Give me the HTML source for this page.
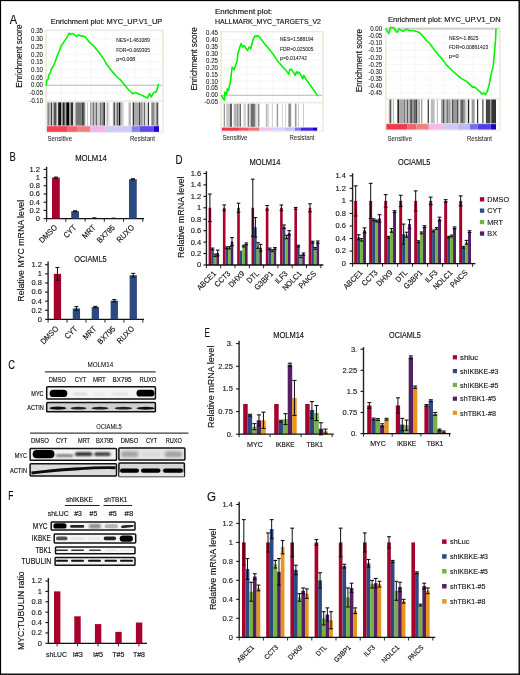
<!DOCTYPE html><html><head><meta charset="utf-8"><style>html,body{margin:0;padding:0;background:#fff;}svg{display:block;will-change:transform;}text{font-family:"Liberation Sans", sans-serif;}</style></head><body>
<svg width="520" height="675" viewBox="0 0 520 675">
<rect x="0" y="0" width="520" height="675" fill="#fff"/>
<text x="9.8" y="23.93" font-size="12" fill="#111" stroke="#111" stroke-width="0.15" textLength="7.4" lengthAdjust="spacingAndGlyphs">A</text>
<text x="9.6" y="161.43" font-size="12" fill="#111" stroke="#111" stroke-width="0.15" textLength="6.3" lengthAdjust="spacingAndGlyphs">B</text>
<text x="8.2" y="369.13" font-size="12" fill="#111" stroke="#111" stroke-width="0.15" textLength="6.7" lengthAdjust="spacingAndGlyphs">C</text>
<text x="175.6" y="164.13" font-size="12" fill="#111" stroke="#111" stroke-width="0.15" textLength="7" lengthAdjust="spacingAndGlyphs">D</text>
<text x="204.6" y="337.33" font-size="12" fill="#111" stroke="#111" stroke-width="0.15" textLength="5.4" lengthAdjust="spacingAndGlyphs">E</text>
<text x="8.2" y="499.83" font-size="12" fill="#111" stroke="#111" stroke-width="0.15" textLength="5.1" lengthAdjust="spacingAndGlyphs">F</text>
<text x="206.9" y="501.13" font-size="12" fill="#111" stroke="#111" stroke-width="0.15" textLength="9" lengthAdjust="spacingAndGlyphs">G</text>
<line x1="46.2" y1="31.16" x2="163" y2="31.16" stroke="#f5f5f5" stroke-width="0.8"/>
<line x1="46.2" y1="38.88" x2="163" y2="38.88" stroke="#f5f5f5" stroke-width="0.8"/>
<line x1="46.2" y1="46.6" x2="163" y2="46.6" stroke="#f5f5f5" stroke-width="0.8"/>
<line x1="46.2" y1="54.32" x2="163" y2="54.32" stroke="#f5f5f5" stroke-width="0.8"/>
<line x1="46.2" y1="62.04" x2="163" y2="62.04" stroke="#f5f5f5" stroke-width="0.8"/>
<line x1="46.2" y1="69.76" x2="163" y2="69.76" stroke="#f5f5f5" stroke-width="0.8"/>
<line x1="46.2" y1="77.48" x2="163" y2="77.48" stroke="#f5f5f5" stroke-width="0.8"/>
<line x1="46.2" y1="92.92" x2="163" y2="92.92" stroke="#f5f5f5" stroke-width="0.8"/>
<line x1="46.2" y1="100.64" x2="163" y2="100.64" stroke="#f5f5f5" stroke-width="0.8"/>
<line x1="61.2" y1="30" x2="61.2" y2="101.2" stroke="#f5f5f5" stroke-width="0.8"/>
<line x1="75.8" y1="30" x2="75.8" y2="101.2" stroke="#f5f5f5" stroke-width="0.8"/>
<line x1="90.8" y1="30" x2="90.8" y2="101.2" stroke="#f5f5f5" stroke-width="0.8"/>
<line x1="105.6" y1="30" x2="105.6" y2="101.2" stroke="#f5f5f5" stroke-width="0.8"/>
<line x1="120.4" y1="30" x2="120.4" y2="101.2" stroke="#f5f5f5" stroke-width="0.8"/>
<line x1="135.4" y1="30" x2="135.4" y2="101.2" stroke="#f5f5f5" stroke-width="0.8"/>
<line x1="150.6" y1="30" x2="150.6" y2="101.2" stroke="#f5f5f5" stroke-width="0.8"/>
<line x1="46.2" y1="85.2" x2="163" y2="85.2" stroke="#b4b4b4" stroke-width="1.1"/>
<text x="31.1" y="33.37" font-size="6.5" fill="#222" stroke="#222" stroke-width="0.08" textLength="11.9" lengthAdjust="spacingAndGlyphs">0.35</text>
<line x1="45" y1="31.16" x2="46.2" y2="31.16" stroke="#ccc" stroke-width="0.6"/>
<text x="31.1" y="41.09" font-size="6.5" fill="#222" stroke="#222" stroke-width="0.08" textLength="11.9" lengthAdjust="spacingAndGlyphs">0.30</text>
<line x1="45" y1="38.88" x2="46.2" y2="38.88" stroke="#ccc" stroke-width="0.6"/>
<text x="31.1" y="48.81" font-size="6.5" fill="#222" stroke="#222" stroke-width="0.08" textLength="11.9" lengthAdjust="spacingAndGlyphs">0.25</text>
<line x1="45" y1="46.6" x2="46.2" y2="46.6" stroke="#ccc" stroke-width="0.6"/>
<text x="31.1" y="56.53" font-size="6.5" fill="#222" stroke="#222" stroke-width="0.08" textLength="11.9" lengthAdjust="spacingAndGlyphs">0.20</text>
<line x1="45" y1="54.32" x2="46.2" y2="54.32" stroke="#ccc" stroke-width="0.6"/>
<text x="31.1" y="64.25" font-size="6.5" fill="#222" stroke="#222" stroke-width="0.08" textLength="11.9" lengthAdjust="spacingAndGlyphs">0.15</text>
<line x1="45" y1="62.04" x2="46.2" y2="62.04" stroke="#ccc" stroke-width="0.6"/>
<text x="31.1" y="71.97" font-size="6.5" fill="#222" stroke="#222" stroke-width="0.08" textLength="11.9" lengthAdjust="spacingAndGlyphs">0.10</text>
<line x1="45" y1="69.76" x2="46.2" y2="69.76" stroke="#ccc" stroke-width="0.6"/>
<text x="31.1" y="79.69" font-size="6.5" fill="#222" stroke="#222" stroke-width="0.08" textLength="11.9" lengthAdjust="spacingAndGlyphs">0.05</text>
<line x1="45" y1="77.48" x2="46.2" y2="77.48" stroke="#ccc" stroke-width="0.6"/>
<text x="31.1" y="87.41" font-size="6.5" fill="#222" stroke="#222" stroke-width="0.08" textLength="11.9" lengthAdjust="spacingAndGlyphs">0.00</text>
<line x1="45" y1="85.2" x2="46.2" y2="85.2" stroke="#ccc" stroke-width="0.6"/>
<text x="29.4" y="95.13" font-size="6.5" fill="#222" stroke="#222" stroke-width="0.08" textLength="13.6" lengthAdjust="spacingAndGlyphs">-0.05</text>
<line x1="45" y1="92.92" x2="46.2" y2="92.92" stroke="#ccc" stroke-width="0.6"/>
<text x="29.4" y="102.85" font-size="6.5" fill="#222" stroke="#222" stroke-width="0.08" textLength="13.6" lengthAdjust="spacingAndGlyphs">-0.10</text>
<line x1="45" y1="100.64" x2="46.2" y2="100.64" stroke="#ccc" stroke-width="0.6"/>
<rect x="46.2" y="30" width="116.8" height="71.2" fill="none" stroke="#ecebdc" stroke-width="1.4"/>
<rect x="46.5" y="102.4" width="1.3" height="23.5" fill="#aaa"/>
<rect x="47.8" y="102.4" width="1.2" height="23.5" fill="#888"/>
<rect x="49" y="102.4" width="1.9" height="23.5" fill="#bbb"/>
<rect x="50.9" y="102.4" width="1.1" height="23.5" fill="#444"/>
<rect x="52" y="102.4" width="1.6" height="23.5" fill="#ccc"/>
<rect x="53.6" y="102.4" width="3.1" height="23.5" fill="#555"/>
<rect x="56.7" y="102.4" width="1.5" height="23.5" fill="#ddd"/>
<rect x="58.2" y="102.4" width="3.1" height="23.5" fill="#111"/>
<rect x="61.3" y="102.4" width="1.5" height="23.5" fill="#999"/>
<rect x="62.8" y="102.4" width="2" height="23.5" fill="#222"/>
<rect x="64.8" y="102.4" width="1.5" height="23.5" fill="#aaa"/>
<rect x="66.3" y="102.4" width="2.7" height="23.5" fill="#000"/>
<rect x="69" y="102.4" width="1.9" height="23.5" fill="#999"/>
<rect x="70.9" y="102.4" width="2.3" height="23.5" fill="#333"/>
<rect x="73.2" y="102.4" width="2.3" height="23.5" fill="#ddd"/>
<rect x="75.5" y="102.4" width="6.2" height="23.5" fill="#777"/>
<rect x="81.7" y="102.4" width="1.5" height="23.5" fill="#444"/>
<rect x="83.2" y="102.4" width="1.5" height="23.5" fill="#333"/>
<rect x="84.7" y="102.4" width="1.1" height="23.5" fill="#ccc"/>
<rect x="85.8" y="102.4" width="1.6" height="23.5" fill="#fff"/>
<rect x="87.4" y="102.4" width="0.8" height="23.5" fill="#aaa"/>
<rect x="88.2" y="102.4" width="1.9" height="23.5" fill="#fff"/>
<rect x="90.1" y="102.4" width="1.5" height="23.5" fill="#999"/>
<rect x="91.6" y="102.4" width="1.6" height="23.5" fill="#bbb"/>
<rect x="93.2" y="102.4" width="1.1" height="23.5" fill="#555"/>
<rect x="94.3" y="102.4" width="1.5" height="23.5" fill="#bbb"/>
<rect x="95.8" y="102.4" width="1.2" height="23.5" fill="#666"/>
<rect x="97" y="102.4" width="3" height="23.5" fill="#ccc"/>
<rect x="100" y="102.4" width="1.2" height="23.5" fill="#777"/>
<rect x="101.2" y="102.4" width="1.2" height="23.5" fill="#999"/>
<rect x="102.4" y="102.4" width="1.5" height="23.5" fill="#666"/>
<rect x="103.9" y="102.4" width="1.1" height="23.5" fill="#333"/>
<rect x="105" y="102.4" width="1.6" height="23.5" fill="#eee"/>
<rect x="106.6" y="102.4" width="1.6" height="23.5" fill="#bbb"/>
<rect x="108.2" y="102.4" width="1.5" height="23.5" fill="#ddd"/>
<rect x="109.7" y="102.4" width="3.1" height="23.5" fill="#fff"/>
<rect x="112.8" y="102.4" width="0.7" height="23.5" fill="#bbb"/>
<rect x="113.5" y="102.4" width="1.5" height="23.5" fill="#555"/>
<rect x="115" y="102.4" width="1.6" height="23.5" fill="#ccc"/>
<rect x="116.6" y="102.4" width="1.6" height="23.5" fill="#666"/>
<rect x="118.2" y="102.4" width="0.7" height="23.5" fill="#999"/>
<rect x="118.9" y="102.4" width="1.6" height="23.5" fill="#111"/>
<rect x="120.5" y="102.4" width="0.8" height="23.5" fill="#aaa"/>
<rect x="121.3" y="102.4" width="1.2" height="23.5" fill="#aaa"/>
<rect x="122.5" y="102.4" width="1.3" height="23.5" fill="#ccc"/>
<rect x="123.8" y="102.4" width="4.7" height="23.5" fill="#fff"/>
<rect x="128.5" y="102.4" width="2.5" height="23.5" fill="#bbb"/>
<rect x="131" y="102.4" width="1.7" height="23.5" fill="#fff"/>
<rect x="132.7" y="102.4" width="1.7" height="23.5" fill="#333"/>
<rect x="134.4" y="102.4" width="4.6" height="23.5" fill="#aaa"/>
<rect x="139" y="102.4" width="1.3" height="23.5" fill="#444"/>
<rect x="140.3" y="102.4" width="2.5" height="23.5" fill="#999"/>
<rect x="142.8" y="102.4" width="1.3" height="23.5" fill="#ccc"/>
<rect x="144.1" y="102.4" width="0.9" height="23.5" fill="#555"/>
<rect x="145" y="102.4" width="2.9" height="23.5" fill="#ddd"/>
<rect x="147.9" y="102.4" width="1.3" height="23.5" fill="#333"/>
<rect x="149.2" y="102.4" width="2.1" height="23.5" fill="#fff"/>
<rect x="151.3" y="102.4" width="3.4" height="23.5" fill="#888"/>
<rect x="154.7" y="102.4" width="1.7" height="23.5" fill="#ccc"/>
<rect x="156.4" y="102.4" width="1.6" height="23.5" fill="#555"/>
<rect x="158" y="102.4" width="1" height="23.5" fill="#ccc"/>
<rect x="46.5" y="125.9" width="20.5" height="6" fill="#f04450"/>
<rect x="67" y="125.9" width="10.8" height="6" fill="#f06474"/>
<rect x="77.8" y="125.9" width="12.3" height="6" fill="#f08080"/>
<rect x="90.1" y="125.9" width="15.7" height="6" fill="#f4b4e4"/>
<rect x="105.8" y="125.9" width="26" height="6" fill="#d0ccf8"/>
<rect x="131.8" y="125.9" width="7.7" height="6" fill="#8080f0"/>
<rect x="139.5" y="125.9" width="14.3" height="6" fill="#6048e8"/>
<rect x="153.8" y="125.9" width="5.2" height="6" fill="#2000c4"/>
<line x1="46.2" y1="30" x2="46.2" y2="132.4" stroke="#ecebdc" stroke-width="1.4"/>
<line x1="163" y1="30" x2="163" y2="132.4" stroke="#ecebdc" stroke-width="1.4"/>
<line x1="46.2" y1="132.4" x2="163" y2="132.4" stroke="#e4e4e4" stroke-width="0.8"/>
<line x1="46.2" y1="125.9" x2="163" y2="125.9" stroke="#e8e8e8" stroke-width="0.6"/>
<polyline points="46.4,85.2 46.6,80.7 48.2,79 48.7,75.4 50.5,72.4 51.4,68.9 53.2,66.5 54.7,63 57,56.4 58.8,52.3 61.2,45.8 63,43.4 65.3,39.8 67.1,37.5 68.9,33.3 70.7,34.2 73,33.5 74.8,35 76.6,36.6 78.4,34.7 80.8,35.9 84.9,36.6 89,41.6 93.8,46.3 98.5,51.7 104,59.4 106.25,63.75 112.5,71.9 117.5,77.5 120.6,80 125,85.6 128.75,90 132.75,93.75 135.6,92.5 140,94.4 143.75,96.25 147.5,98.1 149.4,93.5 151.25,96.9 153.75,92.5 156.25,91.9 157.5,88.1 158.5,84.4" fill="none" stroke="#00f400" stroke-width="1.6" stroke-linejoin="round" stroke-linecap="round"/>
<text x="50.75" y="24.02" font-size="8" fill="#111" stroke="#111" stroke-width="0.15" textLength="111.55" lengthAdjust="spacingAndGlyphs">Enrichment plot: MYC_UP.V1_UP</text>
<text x="116.25" y="42.37" font-size="5.2" fill="#222" stroke="#222" stroke-width="0.08" textLength="33.5" lengthAdjust="spacingAndGlyphs">NES=1.461089</text>
<text x="116.25" y="51.77" font-size="5.2" fill="#222" stroke="#222" stroke-width="0.08" textLength="33.65" lengthAdjust="spacingAndGlyphs">FDR=0.069305</text>
<text x="116.25" y="60.77" font-size="5.2" fill="#222" stroke="#222" stroke-width="0.08" textLength="18.95" lengthAdjust="spacingAndGlyphs">p=0.008</text>
<text transform="translate(22.2,87.8) rotate(-90)" x="0" y="0" font-size="8.8" fill="#111" stroke="#111" stroke-width="0.15" textLength="63.4" lengthAdjust="spacingAndGlyphs">Enrichment score</text>
<text x="47.5" y="140.9" font-size="7.8" fill="#2a2a2a" stroke="#2a2a2a" stroke-width="0.05" textLength="24.5" lengthAdjust="spacingAndGlyphs">Sensitive</text>
<text x="130" y="140.9" font-size="7.8" fill="#2a2a2a" stroke="#2a2a2a" stroke-width="0.05" textLength="25" lengthAdjust="spacingAndGlyphs">Resistant</text>
<line x1="221.1" y1="39.6" x2="323" y2="39.6" stroke="#f5f5f5" stroke-width="0.8"/>
<line x1="221.1" y1="46.55" x2="323" y2="46.55" stroke="#f5f5f5" stroke-width="0.8"/>
<line x1="221.1" y1="53.5" x2="323" y2="53.5" stroke="#f5f5f5" stroke-width="0.8"/>
<line x1="221.1" y1="60.45" x2="323" y2="60.45" stroke="#f5f5f5" stroke-width="0.8"/>
<line x1="221.1" y1="67.4" x2="323" y2="67.4" stroke="#f5f5f5" stroke-width="0.8"/>
<line x1="221.1" y1="74.35" x2="323" y2="74.35" stroke="#f5f5f5" stroke-width="0.8"/>
<line x1="221.1" y1="81.3" x2="323" y2="81.3" stroke="#f5f5f5" stroke-width="0.8"/>
<line x1="221.1" y1="88.25" x2="323" y2="88.25" stroke="#f5f5f5" stroke-width="0.8"/>
<line x1="221.1" y1="102.15" x2="323" y2="102.15" stroke="#f5f5f5" stroke-width="0.8"/>
<line x1="234" y1="31.7" x2="234" y2="102.7" stroke="#f5f5f5" stroke-width="0.8"/>
<line x1="246.9" y1="31.7" x2="246.9" y2="102.7" stroke="#f5f5f5" stroke-width="0.8"/>
<line x1="259.8" y1="31.7" x2="259.8" y2="102.7" stroke="#f5f5f5" stroke-width="0.8"/>
<line x1="272.6" y1="31.7" x2="272.6" y2="102.7" stroke="#f5f5f5" stroke-width="0.8"/>
<line x1="285.9" y1="31.7" x2="285.9" y2="102.7" stroke="#f5f5f5" stroke-width="0.8"/>
<line x1="298.6" y1="31.7" x2="298.6" y2="102.7" stroke="#f5f5f5" stroke-width="0.8"/>
<line x1="311.7" y1="31.7" x2="311.7" y2="102.7" stroke="#f5f5f5" stroke-width="0.8"/>
<line x1="221.1" y1="95.2" x2="323" y2="95.2" stroke="#b4b4b4" stroke-width="1.1"/>
<text x="206.1" y="34.86" font-size="6.5" fill="#222" stroke="#222" stroke-width="0.08" textLength="11.9" lengthAdjust="spacingAndGlyphs">0.45</text>
<line x1="219.9" y1="32.65" x2="221.1" y2="32.65" stroke="#ccc" stroke-width="0.6"/>
<text x="206.1" y="41.81" font-size="6.5" fill="#222" stroke="#222" stroke-width="0.08" textLength="11.9" lengthAdjust="spacingAndGlyphs">0.40</text>
<line x1="219.9" y1="39.6" x2="221.1" y2="39.6" stroke="#ccc" stroke-width="0.6"/>
<text x="206.1" y="48.76" font-size="6.5" fill="#222" stroke="#222" stroke-width="0.08" textLength="11.9" lengthAdjust="spacingAndGlyphs">0.35</text>
<line x1="219.9" y1="46.55" x2="221.1" y2="46.55" stroke="#ccc" stroke-width="0.6"/>
<text x="206.1" y="55.71" font-size="6.5" fill="#222" stroke="#222" stroke-width="0.08" textLength="11.9" lengthAdjust="spacingAndGlyphs">0.30</text>
<line x1="219.9" y1="53.5" x2="221.1" y2="53.5" stroke="#ccc" stroke-width="0.6"/>
<text x="206.1" y="62.66" font-size="6.5" fill="#222" stroke="#222" stroke-width="0.08" textLength="11.9" lengthAdjust="spacingAndGlyphs">0.25</text>
<line x1="219.9" y1="60.45" x2="221.1" y2="60.45" stroke="#ccc" stroke-width="0.6"/>
<text x="206.1" y="69.61" font-size="6.5" fill="#222" stroke="#222" stroke-width="0.08" textLength="11.9" lengthAdjust="spacingAndGlyphs">0.20</text>
<line x1="219.9" y1="67.4" x2="221.1" y2="67.4" stroke="#ccc" stroke-width="0.6"/>
<text x="206.1" y="76.56" font-size="6.5" fill="#222" stroke="#222" stroke-width="0.08" textLength="11.9" lengthAdjust="spacingAndGlyphs">0.15</text>
<line x1="219.9" y1="74.35" x2="221.1" y2="74.35" stroke="#ccc" stroke-width="0.6"/>
<text x="206.1" y="83.51" font-size="6.5" fill="#222" stroke="#222" stroke-width="0.08" textLength="11.9" lengthAdjust="spacingAndGlyphs">0.10</text>
<line x1="219.9" y1="81.3" x2="221.1" y2="81.3" stroke="#ccc" stroke-width="0.6"/>
<text x="206.1" y="90.46" font-size="6.5" fill="#222" stroke="#222" stroke-width="0.08" textLength="11.9" lengthAdjust="spacingAndGlyphs">0.05</text>
<line x1="219.9" y1="88.25" x2="221.1" y2="88.25" stroke="#ccc" stroke-width="0.6"/>
<text x="206.1" y="97.41" font-size="6.5" fill="#222" stroke="#222" stroke-width="0.08" textLength="11.9" lengthAdjust="spacingAndGlyphs">0.00</text>
<line x1="219.9" y1="95.2" x2="221.1" y2="95.2" stroke="#ccc" stroke-width="0.6"/>
<text x="204.4" y="104.36" font-size="6.5" fill="#222" stroke="#222" stroke-width="0.08" textLength="13.6" lengthAdjust="spacingAndGlyphs">-0.05</text>
<line x1="219.9" y1="102.15" x2="221.1" y2="102.15" stroke="#ccc" stroke-width="0.6"/>
<rect x="221.1" y="31.7" width="101.9" height="71" fill="none" stroke="#ecebdc" stroke-width="1.4"/>
<rect x="223.7" y="103.7" width="1.3" height="23.2" fill="#999999"/>
<rect x="226.3" y="103.7" width="3.7" height="23.2" fill="#c5c5c5"/>
<rect x="230" y="103.7" width="2" height="23.2" fill="#606060"/>
<rect x="233.6" y="103.7" width="3.1" height="23.2" fill="#b6b6b6"/>
<rect x="236.7" y="103.7" width="1.5" height="23.2" fill="#999999"/>
<rect x="238.2" y="103.7" width="1.6" height="23.2" fill="#b6b6b6"/>
<rect x="239.8" y="103.7" width="1.2" height="23.2" fill="#6e6e6e"/>
<rect x="243.4" y="103.7" width="2.6" height="23.2" fill="#d3d3d3"/>
<rect x="247.6" y="103.7" width="1.6" height="23.2" fill="#7c7c7c"/>
<rect x="249.2" y="103.7" width="1.5" height="23.2" fill="#d3d3d3"/>
<rect x="250.7" y="103.7" width="4.2" height="23.2" fill="#6e6e6e"/>
<rect x="254.9" y="103.7" width="1.5" height="23.2" fill="#c5c5c5"/>
<rect x="256.4" y="103.7" width="1.6" height="23.2" fill="#e2e2e2"/>
<rect x="258" y="103.7" width="1.5" height="23.2" fill="#999999"/>
<rect x="265.8" y="103.7" width="1.5" height="23.2" fill="#b6b6b6"/>
<rect x="267.3" y="103.7" width="1.6" height="23.2" fill="#d3d3d3"/>
<rect x="271.9" y="103.7" width="0.7" height="23.2" fill="#b6b6b6"/>
<rect x="276.7" y="103.7" width="1.4" height="23.2" fill="#999999"/>
<rect x="281.9" y="103.7" width="0.8" height="23.2" fill="#c5c5c5"/>
<rect x="285.1" y="103.7" width="1" height="23.2" fill="#d3d3d3"/>
<rect x="288.2" y="103.7" width="3.1" height="23.2" fill="#a8a8a8"/>
<rect x="289.2" y="103.7" width="1.1" height="23.2" fill="#7c7c7c"/>
<rect x="294.9" y="103.7" width="1.6" height="23.2" fill="#999999"/>
<rect x="298" y="103.7" width="0.9" height="23.2" fill="#c5c5c5"/>
<rect x="303" y="103.7" width="0.7" height="23.2" fill="#b6b6b6"/>
<rect x="221.4" y="127.3" width="18.4" height="3.4" fill="#f03444"/>
<rect x="239.8" y="127.3" width="8.2" height="3.4" fill="#f05464"/>
<rect x="248" y="127.3" width="11" height="3.4" fill="#f07474"/>
<rect x="259" y="127.3" width="13" height="3.4" fill="#f8c0e8"/>
<rect x="272" y="127.3" width="13" height="3.4" fill="#d4d4f8"/>
<rect x="285" y="127.3" width="10" height="3.4" fill="#c8c0f8"/>
<rect x="295" y="127.3" width="6" height="3.4" fill="#7474f0"/>
<rect x="301" y="127.3" width="12" height="3.4" fill="#4424e0"/>
<rect x="313" y="127.3" width="4.2" height="3.4" fill="#1400c0"/>
<line x1="221.1" y1="31.7" x2="221.1" y2="131.5" stroke="#ecebdc" stroke-width="1.4"/>
<line x1="323" y1="31.7" x2="323" y2="131.5" stroke="#ecebdc" stroke-width="1.4"/>
<line x1="221.1" y1="131.5" x2="323" y2="131.5" stroke="#e4e4e4" stroke-width="0.8"/>
<line x1="221.1" y1="127.3" x2="323" y2="127.3" stroke="#e8e8e8" stroke-width="0.6"/>
<polyline points="221.5,95.6 224.4,100.2 224.9,92.1 226.7,94.4 227.2,88.7 228.6,90.4 229.6,85.2 230.5,81.1 231.3,74.2 232.1,67.3 234.2,69.6 235.3,66.1 237.1,61.5 237.9,53.4 239.4,48.8 241.1,43.6 242.8,47.1 244.3,45.6 247.5,50.5 249.2,47.1 250.7,48.8 252.7,40.7 254.7,36.1 256.1,36.7 257.3,35.5 259.6,37.2 265.4,44.8 268.8,48.8 272.6,53.4 277.2,60.4 281.9,66.1 286.5,70.8 288.6,74.2 289.7,69.6 291.1,69.4 292.8,71.3 295.2,75.4 296.3,71.7 297.8,73.6 298.6,71.9 300.4,74.2 302.7,78.8 303.8,75.4 306.1,79.4 311.9,87.5 317.7,95.6" fill="none" stroke="#00f400" stroke-width="1.6" stroke-linejoin="round" stroke-linecap="round"/>
<text x="215" y="14.47" font-size="8" fill="#111" stroke="#111" stroke-width="0.15" textLength="57.3" lengthAdjust="spacingAndGlyphs">Enrichment plot:</text>
<text x="215" y="24.47" font-size="8" fill="#111" stroke="#111" stroke-width="0.15" textLength="106" lengthAdjust="spacingAndGlyphs">HALLMARK_MYC_TARGETS_V2</text>
<text x="280.1" y="41.37" font-size="5.2" fill="#222" stroke="#222" stroke-width="0.08" textLength="33.3" lengthAdjust="spacingAndGlyphs">NES=1.588194</text>
<text x="280.1" y="50.57" font-size="5.2" fill="#222" stroke="#222" stroke-width="0.08" textLength="33.3" lengthAdjust="spacingAndGlyphs">FDR=0.025005</text>
<text x="280.1" y="59.77" font-size="5.2" fill="#222" stroke="#222" stroke-width="0.08" textLength="26.9" lengthAdjust="spacingAndGlyphs">p=0.014742</text>
<text transform="translate(197.3,90.6) rotate(-90)" x="0" y="0" font-size="8.8" fill="#111" stroke="#111" stroke-width="0.15" textLength="63.4" lengthAdjust="spacingAndGlyphs">Enrichment score</text>
<text x="222.5" y="140.45" font-size="7.8" fill="#2a2a2a" stroke="#2a2a2a" stroke-width="0.05" textLength="25" lengthAdjust="spacingAndGlyphs">Sensitive</text>
<text x="289.5" y="140.45" font-size="7.8" fill="#2a2a2a" stroke="#2a2a2a" stroke-width="0.05" textLength="25" lengthAdjust="spacingAndGlyphs">Resistant</text>
<line x1="385.7" y1="36" x2="500" y2="36" stroke="#f5f5f5" stroke-width="0.8"/>
<line x1="385.7" y1="43.1" x2="500" y2="43.1" stroke="#f5f5f5" stroke-width="0.8"/>
<line x1="385.7" y1="50.2" x2="500" y2="50.2" stroke="#f5f5f5" stroke-width="0.8"/>
<line x1="385.7" y1="57.3" x2="500" y2="57.3" stroke="#f5f5f5" stroke-width="0.8"/>
<line x1="385.7" y1="64.4" x2="500" y2="64.4" stroke="#f5f5f5" stroke-width="0.8"/>
<line x1="385.7" y1="71.5" x2="500" y2="71.5" stroke="#f5f5f5" stroke-width="0.8"/>
<line x1="385.7" y1="78.6" x2="500" y2="78.6" stroke="#f5f5f5" stroke-width="0.8"/>
<line x1="385.7" y1="85.7" x2="500" y2="85.7" stroke="#f5f5f5" stroke-width="0.8"/>
<line x1="385.7" y1="92.8" x2="500" y2="92.8" stroke="#f5f5f5" stroke-width="0.8"/>
<line x1="400.6" y1="27.6" x2="400.6" y2="98.9" stroke="#f5f5f5" stroke-width="0.8"/>
<line x1="415" y1="27.6" x2="415" y2="98.9" stroke="#f5f5f5" stroke-width="0.8"/>
<line x1="429.8" y1="27.6" x2="429.8" y2="98.9" stroke="#f5f5f5" stroke-width="0.8"/>
<line x1="444.8" y1="27.6" x2="444.8" y2="98.9" stroke="#f5f5f5" stroke-width="0.8"/>
<line x1="458.8" y1="27.6" x2="458.8" y2="98.9" stroke="#f5f5f5" stroke-width="0.8"/>
<line x1="473.3" y1="27.6" x2="473.3" y2="98.9" stroke="#f5f5f5" stroke-width="0.8"/>
<line x1="489.1" y1="27.6" x2="489.1" y2="98.9" stroke="#f5f5f5" stroke-width="0.8"/>
<line x1="385.7" y1="28.9" x2="500" y2="28.9" stroke="#b4b4b4" stroke-width="1.1"/>
<text x="370.2" y="31.11" font-size="6.5" fill="#222" stroke="#222" stroke-width="0.08" textLength="11.9" lengthAdjust="spacingAndGlyphs">0.00</text>
<line x1="384.5" y1="28.9" x2="385.7" y2="28.9" stroke="#ccc" stroke-width="0.6"/>
<text x="368.5" y="38.21" font-size="6.5" fill="#222" stroke="#222" stroke-width="0.08" textLength="13.6" lengthAdjust="spacingAndGlyphs">-0.05</text>
<line x1="384.5" y1="36" x2="385.7" y2="36" stroke="#ccc" stroke-width="0.6"/>
<text x="368.5" y="45.31" font-size="6.5" fill="#222" stroke="#222" stroke-width="0.08" textLength="13.6" lengthAdjust="spacingAndGlyphs">-0.10</text>
<line x1="384.5" y1="43.1" x2="385.7" y2="43.1" stroke="#ccc" stroke-width="0.6"/>
<text x="368.5" y="52.41" font-size="6.5" fill="#222" stroke="#222" stroke-width="0.08" textLength="13.6" lengthAdjust="spacingAndGlyphs">-0.15</text>
<line x1="384.5" y1="50.2" x2="385.7" y2="50.2" stroke="#ccc" stroke-width="0.6"/>
<text x="368.5" y="59.51" font-size="6.5" fill="#222" stroke="#222" stroke-width="0.08" textLength="13.6" lengthAdjust="spacingAndGlyphs">-0.20</text>
<line x1="384.5" y1="57.3" x2="385.7" y2="57.3" stroke="#ccc" stroke-width="0.6"/>
<text x="368.5" y="66.61" font-size="6.5" fill="#222" stroke="#222" stroke-width="0.08" textLength="13.6" lengthAdjust="spacingAndGlyphs">-0.25</text>
<line x1="384.5" y1="64.4" x2="385.7" y2="64.4" stroke="#ccc" stroke-width="0.6"/>
<text x="368.5" y="73.71" font-size="6.5" fill="#222" stroke="#222" stroke-width="0.08" textLength="13.6" lengthAdjust="spacingAndGlyphs">-0.30</text>
<line x1="384.5" y1="71.5" x2="385.7" y2="71.5" stroke="#ccc" stroke-width="0.6"/>
<text x="368.5" y="80.81" font-size="6.5" fill="#222" stroke="#222" stroke-width="0.08" textLength="13.6" lengthAdjust="spacingAndGlyphs">-0.35</text>
<line x1="384.5" y1="78.6" x2="385.7" y2="78.6" stroke="#ccc" stroke-width="0.6"/>
<text x="368.5" y="87.91" font-size="6.5" fill="#222" stroke="#222" stroke-width="0.08" textLength="13.6" lengthAdjust="spacingAndGlyphs">-0.40</text>
<line x1="384.5" y1="85.7" x2="385.7" y2="85.7" stroke="#ccc" stroke-width="0.6"/>
<text x="368.5" y="95.01" font-size="6.5" fill="#222" stroke="#222" stroke-width="0.08" textLength="13.6" lengthAdjust="spacingAndGlyphs">-0.45</text>
<line x1="384.5" y1="92.8" x2="385.7" y2="92.8" stroke="#ccc" stroke-width="0.6"/>
<rect x="385.7" y="27.6" width="114.3" height="71.3" fill="none" stroke="#ecebdc" stroke-width="1.4"/>
<rect x="388.8" y="99.5" width="1.1" height="24.1" fill="#aaa"/>
<rect x="389.9" y="99.5" width="1.4" height="24.1" fill="#555"/>
<rect x="392.8" y="99.5" width="1.2" height="24.1" fill="#bbb"/>
<rect x="397.4" y="99.5" width="1.8" height="24.1" fill="#222"/>
<rect x="399.2" y="99.5" width="4.6" height="24.1" fill="#aaa"/>
<rect x="403.8" y="99.5" width="1.7" height="24.1" fill="#777"/>
<rect x="405.5" y="99.5" width="1.7" height="24.1" fill="#bbb"/>
<rect x="407.2" y="99.5" width="1.2" height="24.1" fill="#333"/>
<rect x="408.4" y="99.5" width="1.7" height="24.1" fill="#bbb"/>
<rect x="410.1" y="99.5" width="0.7" height="24.1" fill="#333"/>
<rect x="410.8" y="99.5" width="1.5" height="24.1" fill="#555"/>
<rect x="412.3" y="99.5" width="1.5" height="24.1" fill="#888"/>
<rect x="413.8" y="99.5" width="2" height="24.1" fill="#666"/>
<rect x="415.8" y="99.5" width="1.1" height="24.1" fill="#222"/>
<rect x="416.9" y="99.5" width="1.6" height="24.1" fill="#bbb"/>
<rect x="418.5" y="99.5" width="1.5" height="24.1" fill="#aaa"/>
<rect x="421.2" y="99.5" width="1.1" height="24.1" fill="#888"/>
<rect x="427.7" y="99.5" width="1.1" height="24.1" fill="#222"/>
<rect x="430.8" y="99.5" width="3.8" height="24.1" fill="#bbb"/>
<rect x="436.9" y="99.5" width="0.8" height="24.1" fill="#aaa"/>
<rect x="441.2" y="99.5" width="1.8" height="24.1" fill="#999"/>
<rect x="443" y="99.5" width="1.6" height="24.1" fill="#555"/>
<rect x="444.6" y="99.5" width="1.2" height="24.1" fill="#bbb"/>
<rect x="445.8" y="99.5" width="0.8" height="24.1" fill="#999"/>
<rect x="446.6" y="99.5" width="1.7" height="24.1" fill="#777"/>
<rect x="448.3" y="99.5" width="2.4" height="24.1" fill="#999"/>
<rect x="450.7" y="99.5" width="1.2" height="24.1" fill="#ddd"/>
<rect x="451.9" y="99.5" width="1.8" height="24.1" fill="#555"/>
<rect x="453.7" y="99.5" width="3.6" height="24.1" fill="#999"/>
<rect x="457.3" y="99.5" width="1.2" height="24.1" fill="#111"/>
<rect x="458.5" y="99.5" width="1.8" height="24.1" fill="#ddd"/>
<rect x="460.3" y="99.5" width="3.5" height="24.1" fill="#666"/>
<rect x="463.8" y="99.5" width="1.8" height="24.1" fill="#999"/>
<rect x="465.6" y="99.5" width="2.4" height="24.1" fill="#ddd"/>
<rect x="468" y="99.5" width="1.2" height="24.1" fill="#222"/>
<rect x="471.6" y="99.5" width="3" height="24.1" fill="#999"/>
<rect x="477" y="99.5" width="1.2" height="24.1" fill="#333"/>
<rect x="482.3" y="99.5" width="1.2" height="24.1" fill="#444"/>
<rect x="485.9" y="99.5" width="4.2" height="24.1" fill="#444"/>
<rect x="490.1" y="99.5" width="1.2" height="24.1" fill="#999"/>
<rect x="491.3" y="99.5" width="4.7" height="24.1" fill="#333"/>
<rect x="385.9" y="123.7" width="21.3" height="6" fill="#f03848"/>
<rect x="407.2" y="123.7" width="9.3" height="6" fill="#f06070"/>
<rect x="416.5" y="123.7" width="12.3" height="6" fill="#f08080"/>
<rect x="428.8" y="123.7" width="15.4" height="6" fill="#f8b8e8"/>
<rect x="444.2" y="123.7" width="13.7" height="6" fill="#cacaf4"/>
<rect x="457.9" y="123.7" width="11.9" height="6" fill="#c0b8f4"/>
<rect x="469.8" y="123.7" width="7.8" height="6" fill="#7070f0"/>
<rect x="477.6" y="123.7" width="13.1" height="6" fill="#5040e8"/>
<rect x="490.7" y="123.7" width="5.3" height="6" fill="#2000c0"/>
<line x1="385.7" y1="27.6" x2="385.7" y2="130.2" stroke="#ecebdc" stroke-width="1.4"/>
<line x1="500" y1="27.6" x2="500" y2="130.2" stroke="#ecebdc" stroke-width="1.4"/>
<line x1="385.7" y1="130.2" x2="500" y2="130.2" stroke="#e4e4e4" stroke-width="0.8"/>
<line x1="385.7" y1="123.7" x2="500" y2="123.7" stroke="#e8e8e8" stroke-width="0.6"/>
<polyline points="385.9,28.9 388.8,33.6 390.5,27.2 393.4,27.8 397.1,32.4 399.2,28.9 402.7,31.2 406.7,29.2 409.6,30.7 413.1,30.7 417.7,31.8 420,33 423.5,37 427.5,41.7 429.2,42.8 433.9,49.2 438.5,55 443,60.1 446,64.4 452.1,70.5 458.2,75.9 461.8,78.9 466.7,81.4 472.7,87.4 474.5,86.8 477.6,89.8 480,91.7 481.8,94.1 483.6,92.9 485.4,94.7 487.2,91.7 489.1,85 490.9,75.3 493.3,65.6 494.5,52.3 495.5,40.2 496,29.3" fill="none" stroke="#00f400" stroke-width="1.6" stroke-linejoin="round" stroke-linecap="round"/>
<text x="388" y="22.22" font-size="8" fill="#111" stroke="#111" stroke-width="0.15" textLength="112.7" lengthAdjust="spacingAndGlyphs">Enrichment plot: MYC_UP.V1_DN</text>
<text x="449.1" y="39.52" font-size="5.2" fill="#222" stroke="#222" stroke-width="0.08" textLength="29.4" lengthAdjust="spacingAndGlyphs">NES=-1.8625</text>
<text x="449.1" y="48.87" font-size="5.2" fill="#222" stroke="#222" stroke-width="0.08" textLength="39.1" lengthAdjust="spacingAndGlyphs">FDR=0.00891423</text>
<text x="449.1" y="58.27" font-size="5.2" fill="#222" stroke="#222" stroke-width="0.08" textLength="9.4" lengthAdjust="spacingAndGlyphs">p=0</text>
<text transform="translate(362.1,92.3) rotate(-90)" x="0" y="0" font-size="8.8" fill="#111" stroke="#111" stroke-width="0.15" textLength="63.4" lengthAdjust="spacingAndGlyphs">Enrichment score</text>
<text x="387.5" y="140.65" font-size="7.8" fill="#2a2a2a" stroke="#2a2a2a" stroke-width="0.05" textLength="24.5" lengthAdjust="spacingAndGlyphs">Sensitive</text>
<text x="467" y="140.65" font-size="7.8" fill="#2a2a2a" stroke="#2a2a2a" stroke-width="0.05" textLength="25" lengthAdjust="spacingAndGlyphs">Resistant</text>
<text x="75.2" y="160.79" font-size="8.2" fill="#111" stroke="#111" stroke-width="0.15" textLength="31.6" lengthAdjust="spacingAndGlyphs">MOLM14</text>
<line x1="46.6" y1="166.7" x2="46.6" y2="219.2" stroke="#222" stroke-width="1.4"/>
<line x1="43.6" y1="169.4" x2="46.6" y2="169.4" stroke="#111" stroke-width="1.1"/>
<text x="39.9" y="171.8" font-size="7.5" fill="#222" stroke="#222" stroke-width="0.15" text-anchor="end">1.2</text>
<line x1="43.6" y1="177.6" x2="46.6" y2="177.6" stroke="#111" stroke-width="1.1"/>
<text x="39.9" y="180" font-size="7.5" fill="#222" stroke="#222" stroke-width="0.15" text-anchor="end">1</text>
<line x1="43.6" y1="185.8" x2="46.6" y2="185.8" stroke="#111" stroke-width="1.1"/>
<text x="39.9" y="188.2" font-size="7.5" fill="#222" stroke="#222" stroke-width="0.15" text-anchor="end">0.8</text>
<line x1="43.6" y1="194" x2="46.6" y2="194" stroke="#111" stroke-width="1.1"/>
<text x="39.9" y="196.4" font-size="7.5" fill="#222" stroke="#222" stroke-width="0.15" text-anchor="end">0.6</text>
<line x1="43.6" y1="202.2" x2="46.6" y2="202.2" stroke="#111" stroke-width="1.1"/>
<text x="39.9" y="204.6" font-size="7.5" fill="#222" stroke="#222" stroke-width="0.15" text-anchor="end">0.4</text>
<line x1="43.6" y1="210.4" x2="46.6" y2="210.4" stroke="#111" stroke-width="1.1"/>
<text x="39.9" y="212.8" font-size="7.5" fill="#222" stroke="#222" stroke-width="0.15" text-anchor="end">0.2</text>
<line x1="43.6" y1="218.6" x2="46.6" y2="218.6" stroke="#111" stroke-width="1.1"/>
<text x="39.9" y="221" font-size="7.5" fill="#222" stroke="#222" stroke-width="0.15" text-anchor="end">0</text>
<line x1="46.6" y1="218.6" x2="144" y2="218.6" stroke="#111" stroke-width="1.3"/>
<line x1="46.6" y1="218.6" x2="46.6" y2="221.8" stroke="#111" stroke-width="0.9"/>
<line x1="65.84" y1="218.6" x2="65.84" y2="221.8" stroke="#111" stroke-width="0.9"/>
<line x1="85.08" y1="218.6" x2="85.08" y2="221.8" stroke="#111" stroke-width="0.9"/>
<line x1="104.32" y1="218.6" x2="104.32" y2="221.8" stroke="#111" stroke-width="0.9"/>
<line x1="123.56" y1="218.6" x2="123.56" y2="221.8" stroke="#111" stroke-width="0.9"/>
<line x1="142.8" y1="218.6" x2="142.8" y2="221.8" stroke="#111" stroke-width="0.9"/>
<rect x="52" y="177.6" width="7.8" height="41" fill="#a6022c"/>
<line x1="55.9" y1="177.11" x2="55.9" y2="178.09" stroke="#000" stroke-width="0.95"/>
<line x1="53.9" y1="177.11" x2="57.9" y2="177.11" stroke="#111" stroke-width="1.1"/>
<line x1="53.9" y1="178.09" x2="57.9" y2="178.09" stroke="#111" stroke-width="1.1"/>
<rect x="71.24" y="211.22" width="7.8" height="7.38" fill="#2c4a80"/>
<line x1="75.14" y1="210.81" x2="75.14" y2="211.63" stroke="#000" stroke-width="0.95"/>
<line x1="73.14" y1="210.81" x2="77.14" y2="210.81" stroke="#111" stroke-width="1.1"/>
<line x1="73.14" y1="211.63" x2="77.14" y2="211.63" stroke="#111" stroke-width="1.1"/>
<rect x="90.48" y="218.11" width="7.8" height="0.49" fill="#2c4a80"/>
<line x1="94.38" y1="217.94" x2="94.38" y2="218.27" stroke="#000" stroke-width="0.95"/>
<line x1="92.38" y1="217.94" x2="96.38" y2="217.94" stroke="#111" stroke-width="1.1"/>
<line x1="92.38" y1="218.27" x2="96.38" y2="218.27" stroke="#111" stroke-width="1.1"/>
<rect x="109.72" y="218.35" width="7.8" height="0.25" fill="#2c4a80"/>
<line x1="113.62" y1="218.23" x2="113.62" y2="218.48" stroke="#000" stroke-width="0.95"/>
<line x1="111.62" y1="218.23" x2="115.62" y2="218.23" stroke="#111" stroke-width="1.1"/>
<line x1="111.62" y1="218.48" x2="115.62" y2="218.48" stroke="#111" stroke-width="1.1"/>
<rect x="128.96" y="179.24" width="7.8" height="39.36" fill="#2c4a80"/>
<line x1="132.86" y1="178.75" x2="132.86" y2="179.73" stroke="#000" stroke-width="0.95"/>
<line x1="130.86" y1="178.75" x2="134.86" y2="178.75" stroke="#111" stroke-width="1.1"/>
<line x1="130.86" y1="179.73" x2="134.86" y2="179.73" stroke="#111" stroke-width="1.1"/>
<text transform="translate(57.7,228.1) rotate(-45)" x="0" y="0" font-size="7.9" fill="#111" stroke="#111" stroke-width="0.15" text-anchor="end" textLength="21.8" lengthAdjust="spacingAndGlyphs">DMSO</text>
<text transform="translate(76.94,228.1) rotate(-45)" x="0" y="0" font-size="7.9" fill="#111" stroke="#111" stroke-width="0.15" text-anchor="end" textLength="14.54" lengthAdjust="spacingAndGlyphs">CYT</text>
<text transform="translate(96.18,228.1) rotate(-45)" x="0" y="0" font-size="7.9" fill="#111" stroke="#111" stroke-width="0.15" text-anchor="end" textLength="15.61" lengthAdjust="spacingAndGlyphs">MRT</text>
<text transform="translate(115.42,228.1) rotate(-45)" x="0" y="0" font-size="7.9" fill="#111" stroke="#111" stroke-width="0.15" text-anchor="end" textLength="21.82" lengthAdjust="spacingAndGlyphs">BX795</text>
<text transform="translate(134.66,228.1) rotate(-45)" x="0" y="0" font-size="7.9" fill="#111" stroke="#111" stroke-width="0.15" text-anchor="end" textLength="21" lengthAdjust="spacingAndGlyphs">RUXO</text>
<text x="74.3" y="261.99" font-size="8.2" fill="#111" stroke="#111" stroke-width="0.15" textLength="32.4" lengthAdjust="spacingAndGlyphs">OCIAML5</text>
<line x1="48.1" y1="261.4" x2="48.1" y2="319.95" stroke="#222" stroke-width="1.4"/>
<line x1="45.1" y1="264.75" x2="48.1" y2="264.75" stroke="#111" stroke-width="1.1"/>
<text x="41.9" y="267.15" font-size="7.5" fill="#222" stroke="#222" stroke-width="0.15" text-anchor="end">1.2</text>
<line x1="45.1" y1="273.85" x2="48.1" y2="273.85" stroke="#111" stroke-width="1.1"/>
<text x="41.9" y="276.25" font-size="7.5" fill="#222" stroke="#222" stroke-width="0.15" text-anchor="end">1</text>
<line x1="45.1" y1="282.95" x2="48.1" y2="282.95" stroke="#111" stroke-width="1.1"/>
<text x="41.9" y="285.35" font-size="7.5" fill="#222" stroke="#222" stroke-width="0.15" text-anchor="end">0.8</text>
<line x1="45.1" y1="292.05" x2="48.1" y2="292.05" stroke="#111" stroke-width="1.1"/>
<text x="41.9" y="294.45" font-size="7.5" fill="#222" stroke="#222" stroke-width="0.15" text-anchor="end">0.6</text>
<line x1="45.1" y1="301.15" x2="48.1" y2="301.15" stroke="#111" stroke-width="1.1"/>
<text x="41.9" y="303.55" font-size="7.5" fill="#222" stroke="#222" stroke-width="0.15" text-anchor="end">0.4</text>
<line x1="45.1" y1="310.25" x2="48.1" y2="310.25" stroke="#111" stroke-width="1.1"/>
<text x="41.9" y="312.65" font-size="7.5" fill="#222" stroke="#222" stroke-width="0.15" text-anchor="end">0.2</text>
<line x1="45.1" y1="319.35" x2="48.1" y2="319.35" stroke="#111" stroke-width="1.1"/>
<text x="41.9" y="321.75" font-size="7.5" fill="#222" stroke="#222" stroke-width="0.15" text-anchor="end">0</text>
<line x1="48.1" y1="319.35" x2="144" y2="319.35" stroke="#111" stroke-width="1.3"/>
<line x1="48.1" y1="319.35" x2="48.1" y2="322.55" stroke="#111" stroke-width="0.9"/>
<line x1="67.05" y1="319.35" x2="67.05" y2="322.55" stroke="#111" stroke-width="0.9"/>
<line x1="86" y1="319.35" x2="86" y2="322.55" stroke="#111" stroke-width="0.9"/>
<line x1="104.95" y1="319.35" x2="104.95" y2="322.55" stroke="#111" stroke-width="0.9"/>
<line x1="123.9" y1="319.35" x2="123.9" y2="322.55" stroke="#111" stroke-width="0.9"/>
<line x1="142.85" y1="319.35" x2="142.85" y2="322.55" stroke="#111" stroke-width="0.9"/>
<rect x="53.8" y="273.85" width="7.3" height="45.5" fill="#a6022c"/>
<line x1="57.45" y1="267.48" x2="57.45" y2="280.22" stroke="#000" stroke-width="0.95"/>
<line x1="55.45" y1="267.48" x2="59.45" y2="267.48" stroke="#111" stroke-width="1.1"/>
<line x1="55.45" y1="280.22" x2="59.45" y2="280.22" stroke="#111" stroke-width="1.1"/>
<rect x="72.75" y="308.43" width="7.3" height="10.92" fill="#2c4a80"/>
<line x1="76.4" y1="306.61" x2="76.4" y2="310.25" stroke="#000" stroke-width="0.95"/>
<line x1="74.4" y1="306.61" x2="78.4" y2="306.61" stroke="#111" stroke-width="1.1"/>
<line x1="74.4" y1="310.25" x2="78.4" y2="310.25" stroke="#111" stroke-width="1.1"/>
<rect x="91.7" y="307.06" width="7.3" height="12.29" fill="#2c4a80"/>
<line x1="95.35" y1="306.38" x2="95.35" y2="307.75" stroke="#000" stroke-width="0.95"/>
<line x1="93.35" y1="306.38" x2="97.35" y2="306.38" stroke="#111" stroke-width="1.1"/>
<line x1="93.35" y1="307.75" x2="97.35" y2="307.75" stroke="#111" stroke-width="1.1"/>
<rect x="110.65" y="300.7" width="7.3" height="18.65" fill="#2c4a80"/>
<line x1="114.3" y1="299.56" x2="114.3" y2="301.83" stroke="#000" stroke-width="0.95"/>
<line x1="112.3" y1="299.56" x2="116.3" y2="299.56" stroke="#111" stroke-width="1.1"/>
<line x1="112.3" y1="301.83" x2="116.3" y2="301.83" stroke="#111" stroke-width="1.1"/>
<rect x="129.6" y="275.22" width="7.3" height="44.13" fill="#2c4a80"/>
<line x1="133.25" y1="273.4" x2="133.25" y2="277.04" stroke="#000" stroke-width="0.95"/>
<line x1="131.25" y1="273.4" x2="135.25" y2="273.4" stroke="#111" stroke-width="1.1"/>
<line x1="131.25" y1="277.04" x2="135.25" y2="277.04" stroke="#111" stroke-width="1.1"/>
<text transform="translate(59.05,329.3) rotate(-45)" x="0" y="0" font-size="7.9" fill="#111" stroke="#111" stroke-width="0.15" text-anchor="end" textLength="21.8" lengthAdjust="spacingAndGlyphs">DMSO</text>
<text transform="translate(78,329.3) rotate(-45)" x="0" y="0" font-size="7.9" fill="#111" stroke="#111" stroke-width="0.15" text-anchor="end" textLength="14.54" lengthAdjust="spacingAndGlyphs">CYT</text>
<text transform="translate(96.95,329.3) rotate(-45)" x="0" y="0" font-size="7.9" fill="#111" stroke="#111" stroke-width="0.15" text-anchor="end" textLength="15.61" lengthAdjust="spacingAndGlyphs">MRT</text>
<text transform="translate(115.9,329.3) rotate(-45)" x="0" y="0" font-size="7.9" fill="#111" stroke="#111" stroke-width="0.15" text-anchor="end" textLength="21.82" lengthAdjust="spacingAndGlyphs">BX795</text>
<text transform="translate(134.85,329.3) rotate(-45)" x="0" y="0" font-size="7.9" fill="#111" stroke="#111" stroke-width="0.15" text-anchor="end" textLength="21" lengthAdjust="spacingAndGlyphs">RUXO</text>
<text transform="translate(23.5,301.7) rotate(-90)" x="0" y="0" font-size="9.6" fill="#111" stroke="#111" stroke-width="0.15" textLength="101.8" lengthAdjust="spacingAndGlyphs">Relative MYC mRNA level</text>
<defs>
<filter id="b03" x="-20%" y="-50%" width="140%" height="200%"><feGaussianBlur stdDeviation="0.3"/></filter>
<filter id="b05" x="-20%" y="-50%" width="140%" height="200%"><feGaussianBlur stdDeviation="0.5"/></filter>
<filter id="b06" x="-20%" y="-50%" width="140%" height="200%"><feGaussianBlur stdDeviation="0.6"/></filter>
<filter id="b08" x="-20%" y="-50%" width="140%" height="200%"><feGaussianBlur stdDeviation="0.8"/></filter>
<filter id="b10" x="-20%" y="-50%" width="140%" height="200%"><feGaussianBlur stdDeviation="1.0"/></filter>
<filter id="b15" x="-20%" y="-50%" width="140%" height="200%"><feGaussianBlur stdDeviation="1.5"/></filter>
</defs>
<text x="87.5" y="367.31" font-size="6.8" fill="#111" stroke="#111" stroke-width="0.08" textLength="25.8" lengthAdjust="spacingAndGlyphs">MOLM14</text>
<line x1="44.9" y1="371.9" x2="155.6" y2="371.9" stroke="#3a3a3a" stroke-width="1.3"/>
<text x="48.7" y="382.08" font-size="7.3" fill="#111" stroke="#111" stroke-width="0.15" textLength="17.3" lengthAdjust="spacingAndGlyphs">DMSO</text>
<text x="74.8" y="382.08" font-size="7.3" fill="#111" stroke="#111" stroke-width="0.15" textLength="11.6" lengthAdjust="spacingAndGlyphs">CYT</text>
<text x="92.9" y="382.08" font-size="7.3" fill="#111" stroke="#111" stroke-width="0.15" textLength="12.9" lengthAdjust="spacingAndGlyphs">MRT</text>
<text x="112.5" y="382.08" font-size="7.3" fill="#111" stroke="#111" stroke-width="0.15" textLength="18.9" lengthAdjust="spacingAndGlyphs">BX795</text>
<text x="139.4" y="382.08" font-size="7.3" fill="#111" stroke="#111" stroke-width="0.15" textLength="17" lengthAdjust="spacingAndGlyphs">RUXO</text>
<rect x="46.7" y="386.8" width="108.7" height="12.3" fill="#f5f5f5" stroke="#111" stroke-width="1.5" rx="0.8"/>
<rect x="49.6" y="389.7" width="17.7" height="7.4" rx="3.7" fill="#000" opacity="1" filter="url(#b06)"/>
<rect x="73.4" y="392.5" width="13.9" height="3" rx="1.5" fill="#ccc" opacity="0.7" filter="url(#b10)"/>
<rect x="93" y="392.5" width="13" height="3" rx="1.5" fill="#ddd" opacity="0.4" filter="url(#b10)"/>
<rect x="112" y="392.5" width="16.3" height="3" rx="1.5" fill="#ccc" opacity="0.5" filter="url(#b10)"/>
<rect x="136.5" y="389.8" width="17.9" height="6.8" rx="3.4" fill="#000" opacity="1" filter="url(#b06)"/>
<rect x="46.7" y="402.6" width="108.7" height="9.2" fill="#cfcfcf" stroke="#111" stroke-width="1.5" rx="0.8"/>
<ellipse cx="57.9" cy="408.2" rx="8.4" ry="1.6" fill="#111" opacity="1" filter="url(#b06)"/>
<ellipse cx="78.5" cy="408.2" rx="8" ry="1.4" fill="#222" opacity="1" filter="url(#b06)"/>
<ellipse cx="100" cy="408.2" rx="8.5" ry="1.4" fill="#222" opacity="1" filter="url(#b06)"/>
<ellipse cx="123.4" cy="408.2" rx="8.8" ry="1.4" fill="#222" opacity="1" filter="url(#b06)"/>
<ellipse cx="145.75" cy="408.2" rx="9.25" ry="1.5" fill="#111" opacity="1" filter="url(#b06)"/>
<text x="31.25" y="395.85" font-size="6.9" fill="#111" stroke="#111" stroke-width="0.15" textLength="12.4" lengthAdjust="spacingAndGlyphs">MYC</text>
<text x="27.2" y="410.45" font-size="6.9" fill="#111" stroke="#111" stroke-width="0.15" textLength="16.7" lengthAdjust="spacingAndGlyphs">ACTIN</text>
<text x="96.3" y="428.61" font-size="6.8" fill="#111" stroke="#111" stroke-width="0.08" textLength="25.4" lengthAdjust="spacingAndGlyphs">OCIAML5</text>
<line x1="30" y1="433.1" x2="188.4" y2="433.1" stroke="#3a3a3a" stroke-width="1.3"/>
<text x="31" y="442.98" font-size="7.3" fill="#111" stroke="#111" stroke-width="0.15" textLength="18" lengthAdjust="spacingAndGlyphs">DMSO</text>
<text x="56" y="442.98" font-size="7.3" fill="#111" stroke="#111" stroke-width="0.15" textLength="11.3" lengthAdjust="spacingAndGlyphs">CYT</text>
<text x="78" y="442.98" font-size="7.3" fill="#111" stroke="#111" stroke-width="0.15" textLength="12" lengthAdjust="spacingAndGlyphs">MRT</text>
<text x="96" y="442.98" font-size="7.3" fill="#111" stroke="#111" stroke-width="0.15" textLength="17.3" lengthAdjust="spacingAndGlyphs">BX795</text>
<text x="120.7" y="442.98" font-size="7.3" fill="#111" stroke="#111" stroke-width="0.15" textLength="17.5" lengthAdjust="spacingAndGlyphs">DMSO</text>
<text x="146" y="442.98" font-size="7.3" fill="#111" stroke="#111" stroke-width="0.15" textLength="11.3" lengthAdjust="spacingAndGlyphs">CYT</text>
<text x="165.7" y="442.98" font-size="7.3" fill="#111" stroke="#111" stroke-width="0.15" textLength="16.3" lengthAdjust="spacingAndGlyphs">RUXO</text>
<rect x="30.1" y="448.4" width="86.4" height="11.9" fill="#f2f2f2" stroke="#111" stroke-width="1.5" rx="0.8"/>
<rect x="32.7" y="450.1" width="21.8" height="8.2" rx="4.1" fill="#000" opacity="1" filter="url(#b06)"/>
<rect x="55.8" y="454.3" width="17.3" height="2.6" rx="1.3" fill="#777" opacity="1" filter="url(#b08)"/>
<rect x="75" y="452.3" width="17.3" height="3.8" rx="1.9" fill="#2a2a2a" opacity="1" filter="url(#b08)"/>
<rect x="94.3" y="452.3" width="16.3" height="3.8" rx="1.9" fill="#383838" opacity="1" filter="url(#b08)"/>
<rect x="118.9" y="448" width="66" height="12.1" fill="#e6e6e6" stroke="#111" stroke-width="1.5" rx="0.8"/>
<rect x="120.8" y="451.3" width="17.7" height="6" rx="3" fill="#9a9a9a" opacity="0.9" filter="url(#b15)"/>
<rect x="142" y="451.8" width="19" height="5" rx="2.5" fill="#d4d4d4" opacity="0.7" filter="url(#b15)"/>
<rect x="164.6" y="451.3" width="17.7" height="6" rx="3" fill="#9a9a9a" opacity="0.9" filter="url(#b15)"/>
<rect x="30.1" y="463.8" width="86.4" height="12.1" fill="#dcdcdc" stroke="#111" stroke-width="1.5" rx="0.8"/>
<path d="M31.5,473 C45,471.3 60,470 75,469 C90,468 105,467.2 115.5,467.8" fill="none" stroke="#0a0a0a" stroke-width="2.9" filter="url(#b05)"/>
<rect x="118.9" y="462.9" width="65.5" height="13.7" fill="#d6d6d6" stroke="#111" stroke-width="1.5" rx="0.8"/>
<rect x="119.3" y="472.5" width="64.8" height="4" fill="#e4e4e4"/>
<rect x="120" y="468.4" width="19" height="4.4" rx="2.2" fill="#050505" opacity="1" filter="url(#b05)"/>
<rect x="141" y="468.4" width="19.5" height="4.4" rx="2.2" fill="#050505" opacity="1" filter="url(#b05)"/>
<rect x="163" y="468.4" width="20" height="4.4" rx="2.2" fill="#050505" opacity="1" filter="url(#b05)"/>
<text x="14.8" y="457.65" font-size="6.9" fill="#111" stroke="#111" stroke-width="0.15" textLength="12.1" lengthAdjust="spacingAndGlyphs">MYC</text>
<text x="10" y="472.55" font-size="6.9" fill="#111" stroke="#111" stroke-width="0.15" textLength="17" lengthAdjust="spacingAndGlyphs">ACTIN</text>
<text x="249.6" y="165.09" font-size="8.2" fill="#111" stroke="#111" stroke-width="0.15" textLength="30.8" lengthAdjust="spacingAndGlyphs">MOLM14</text>
<text x="398" y="164.79" font-size="8.2" fill="#111" stroke="#111" stroke-width="0.15" textLength="32.4" lengthAdjust="spacingAndGlyphs">OCIAML5</text>
<text transform="translate(184.1,258) rotate(-90)" x="0" y="0" font-size="9.6" fill="#111" stroke="#111" stroke-width="0.15" textLength="81.6" lengthAdjust="spacingAndGlyphs">Relative mRNA level</text>
<line x1="206.4" y1="171.2" x2="206.4" y2="265.6" stroke="#222" stroke-width="1.4"/>
<line x1="203.4" y1="173.48" x2="206.4" y2="173.48" stroke="#111" stroke-width="1.1"/>
<text x="201.1" y="175.88" font-size="7.5" fill="#222" stroke="#222" stroke-width="0.15" text-anchor="end">1.6</text>
<line x1="203.4" y1="184.92" x2="206.4" y2="184.92" stroke="#111" stroke-width="1.1"/>
<text x="201.1" y="187.32" font-size="7.5" fill="#222" stroke="#222" stroke-width="0.15" text-anchor="end">1.4</text>
<line x1="203.4" y1="196.36" x2="206.4" y2="196.36" stroke="#111" stroke-width="1.1"/>
<text x="201.1" y="198.76" font-size="7.5" fill="#222" stroke="#222" stroke-width="0.15" text-anchor="end">1.2</text>
<line x1="203.4" y1="207.8" x2="206.4" y2="207.8" stroke="#111" stroke-width="1.1"/>
<text x="201.1" y="210.2" font-size="7.5" fill="#222" stroke="#222" stroke-width="0.15" text-anchor="end">1</text>
<line x1="203.4" y1="219.24" x2="206.4" y2="219.24" stroke="#111" stroke-width="1.1"/>
<text x="201.1" y="221.64" font-size="7.5" fill="#222" stroke="#222" stroke-width="0.15" text-anchor="end">0.8</text>
<line x1="203.4" y1="230.68" x2="206.4" y2="230.68" stroke="#111" stroke-width="1.1"/>
<text x="201.1" y="233.08" font-size="7.5" fill="#222" stroke="#222" stroke-width="0.15" text-anchor="end">0.6</text>
<line x1="203.4" y1="242.12" x2="206.4" y2="242.12" stroke="#111" stroke-width="1.1"/>
<text x="201.1" y="244.52" font-size="7.5" fill="#222" stroke="#222" stroke-width="0.15" text-anchor="end">0.4</text>
<line x1="203.4" y1="253.56" x2="206.4" y2="253.56" stroke="#111" stroke-width="1.1"/>
<text x="201.1" y="255.96" font-size="7.5" fill="#222" stroke="#222" stroke-width="0.15" text-anchor="end">0.2</text>
<line x1="203.4" y1="265" x2="206.4" y2="265" stroke="#111" stroke-width="1.1"/>
<text x="201.1" y="267.4" font-size="7.5" fill="#222" stroke="#222" stroke-width="0.15" text-anchor="end">0</text>
<rect x="208.6" y="207.8" width="2.6" height="57.2" fill="#a6022c"/>
<line x1="209.9" y1="194.07" x2="209.9" y2="221.53" stroke="#000" stroke-width="0.95"/>
<line x1="208.1" y1="194.07" x2="211.7" y2="194.07" stroke="#111" stroke-width="1.1"/>
<line x1="208.1" y1="221.53" x2="211.7" y2="221.53" stroke="#111" stroke-width="1.1"/>
<rect x="211.2" y="248.98" width="2.6" height="16.02" fill="#2c4a80"/>
<line x1="212.5" y1="248.08" x2="212.5" y2="249.88" stroke="#000" stroke-width="0.95"/>
<line x1="210.7" y1="248.08" x2="214.3" y2="248.08" stroke="#111" stroke-width="1.1"/>
<line x1="210.7" y1="249.88" x2="214.3" y2="249.88" stroke="#111" stroke-width="1.1"/>
<rect x="213.8" y="255.28" width="2.6" height="9.72" fill="#74b342"/>
<line x1="215.1" y1="254.13" x2="215.1" y2="256.42" stroke="#000" stroke-width="0.95"/>
<line x1="213.3" y1="254.13" x2="216.9" y2="254.13" stroke="#111" stroke-width="1.1"/>
<line x1="213.3" y1="256.42" x2="216.9" y2="256.42" stroke="#111" stroke-width="1.1"/>
<rect x="216.4" y="252.99" width="2.6" height="12.01" fill="#552063"/>
<line x1="217.7" y1="250.13" x2="217.7" y2="255.85" stroke="#000" stroke-width="0.95"/>
<line x1="215.9" y1="250.13" x2="219.5" y2="250.13" stroke="#111" stroke-width="1.1"/>
<line x1="215.9" y1="255.85" x2="219.5" y2="255.85" stroke="#111" stroke-width="1.1"/>
<rect x="222.9" y="207.8" width="2.6" height="57.2" fill="#a6022c"/>
<line x1="224.2" y1="204.94" x2="224.2" y2="210.66" stroke="#000" stroke-width="0.95"/>
<line x1="222.4" y1="204.94" x2="226" y2="204.94" stroke="#111" stroke-width="1.1"/>
<line x1="222.4" y1="210.66" x2="226" y2="210.66" stroke="#111" stroke-width="1.1"/>
<rect x="225.5" y="247.84" width="2.6" height="17.16" fill="#2c4a80"/>
<line x1="226.8" y1="246.94" x2="226.8" y2="248.74" stroke="#000" stroke-width="0.95"/>
<line x1="225" y1="246.94" x2="228.6" y2="246.94" stroke="#111" stroke-width="1.1"/>
<line x1="225" y1="248.74" x2="228.6" y2="248.74" stroke="#111" stroke-width="1.1"/>
<rect x="228.1" y="247.84" width="2.6" height="17.16" fill="#74b342"/>
<line x1="229.4" y1="246.7" x2="229.4" y2="248.98" stroke="#000" stroke-width="0.95"/>
<line x1="227.6" y1="246.7" x2="231.2" y2="246.7" stroke="#111" stroke-width="1.1"/>
<line x1="227.6" y1="248.98" x2="231.2" y2="248.98" stroke="#111" stroke-width="1.1"/>
<rect x="230.7" y="241.55" width="2.6" height="23.45" fill="#552063"/>
<line x1="232" y1="237.54" x2="232" y2="245.55" stroke="#000" stroke-width="0.95"/>
<line x1="230.2" y1="237.54" x2="233.8" y2="237.54" stroke="#111" stroke-width="1.1"/>
<line x1="230.2" y1="245.55" x2="233.8" y2="245.55" stroke="#111" stroke-width="1.1"/>
<rect x="237.2" y="207.8" width="2.6" height="57.2" fill="#a6022c"/>
<line x1="238.5" y1="203.22" x2="238.5" y2="212.38" stroke="#000" stroke-width="0.95"/>
<line x1="236.7" y1="203.22" x2="240.3" y2="203.22" stroke="#111" stroke-width="1.1"/>
<line x1="236.7" y1="212.38" x2="240.3" y2="212.38" stroke="#111" stroke-width="1.1"/>
<rect x="239.8" y="250.7" width="2.6" height="14.3" fill="#2c4a80"/>
<rect x="242.4" y="246.12" width="2.6" height="18.88" fill="#74b342"/>
<line x1="243.7" y1="245.22" x2="243.7" y2="247.02" stroke="#000" stroke-width="0.95"/>
<line x1="241.9" y1="245.22" x2="245.5" y2="245.22" stroke="#111" stroke-width="1.1"/>
<line x1="241.9" y1="247.02" x2="245.5" y2="247.02" stroke="#111" stroke-width="1.1"/>
<rect x="245" y="243.84" width="2.6" height="21.16" fill="#552063"/>
<line x1="246.3" y1="242.94" x2="246.3" y2="244.74" stroke="#000" stroke-width="0.95"/>
<line x1="244.5" y1="242.94" x2="248.1" y2="242.94" stroke="#111" stroke-width="1.1"/>
<line x1="244.5" y1="244.74" x2="248.1" y2="244.74" stroke="#111" stroke-width="1.1"/>
<rect x="251.5" y="207.8" width="2.6" height="57.2" fill="#a6022c"/>
<line x1="252.8" y1="179.2" x2="252.8" y2="236.4" stroke="#000" stroke-width="0.95"/>
<line x1="251" y1="179.2" x2="254.6" y2="179.2" stroke="#111" stroke-width="1.1"/>
<line x1="251" y1="236.4" x2="254.6" y2="236.4" stroke="#111" stroke-width="1.1"/>
<rect x="254.1" y="227.25" width="2.6" height="37.75" fill="#2c4a80"/>
<line x1="255.4" y1="217.52" x2="255.4" y2="236.97" stroke="#000" stroke-width="0.95"/>
<line x1="253.6" y1="217.52" x2="257.2" y2="217.52" stroke="#111" stroke-width="1.1"/>
<line x1="253.6" y1="236.97" x2="257.2" y2="236.97" stroke="#111" stroke-width="1.1"/>
<rect x="256.7" y="245.55" width="2.6" height="19.45" fill="#74b342"/>
<line x1="258" y1="242.69" x2="258" y2="248.41" stroke="#000" stroke-width="0.95"/>
<line x1="256.2" y1="242.69" x2="259.8" y2="242.69" stroke="#111" stroke-width="1.1"/>
<line x1="256.2" y1="248.41" x2="259.8" y2="248.41" stroke="#111" stroke-width="1.1"/>
<rect x="259.3" y="247.84" width="2.6" height="17.16" fill="#552063"/>
<line x1="260.6" y1="244.41" x2="260.6" y2="251.27" stroke="#000" stroke-width="0.95"/>
<line x1="258.8" y1="244.41" x2="262.4" y2="244.41" stroke="#111" stroke-width="1.1"/>
<line x1="258.8" y1="251.27" x2="262.4" y2="251.27" stroke="#111" stroke-width="1.1"/>
<rect x="265.8" y="207.8" width="2.6" height="57.2" fill="#a6022c"/>
<line x1="267.1" y1="205.51" x2="267.1" y2="210.09" stroke="#000" stroke-width="0.95"/>
<line x1="265.3" y1="205.51" x2="268.9" y2="205.51" stroke="#111" stroke-width="1.1"/>
<line x1="265.3" y1="210.09" x2="268.9" y2="210.09" stroke="#111" stroke-width="1.1"/>
<rect x="268.4" y="248.98" width="2.6" height="16.02" fill="#2c4a80"/>
<line x1="269.7" y1="248.08" x2="269.7" y2="249.88" stroke="#000" stroke-width="0.95"/>
<line x1="267.9" y1="248.08" x2="271.5" y2="248.08" stroke="#111" stroke-width="1.1"/>
<line x1="267.9" y1="249.88" x2="271.5" y2="249.88" stroke="#111" stroke-width="1.1"/>
<rect x="271" y="250.7" width="2.6" height="14.3" fill="#74b342"/>
<line x1="272.3" y1="249.8" x2="272.3" y2="251.6" stroke="#000" stroke-width="0.95"/>
<line x1="270.5" y1="249.8" x2="274.1" y2="249.8" stroke="#111" stroke-width="1.1"/>
<line x1="270.5" y1="251.6" x2="274.1" y2="251.6" stroke="#111" stroke-width="1.1"/>
<rect x="273.6" y="248.41" width="2.6" height="16.59" fill="#552063"/>
<line x1="274.9" y1="247.51" x2="274.9" y2="249.31" stroke="#000" stroke-width="0.95"/>
<line x1="273.1" y1="247.51" x2="276.7" y2="247.51" stroke="#111" stroke-width="1.1"/>
<line x1="273.1" y1="249.31" x2="276.7" y2="249.31" stroke="#111" stroke-width="1.1"/>
<rect x="280.1" y="207.8" width="2.6" height="57.2" fill="#a6022c"/>
<line x1="281.4" y1="204.94" x2="281.4" y2="210.66" stroke="#000" stroke-width="0.95"/>
<line x1="279.6" y1="204.94" x2="283.2" y2="204.94" stroke="#111" stroke-width="1.1"/>
<line x1="279.6" y1="210.66" x2="283.2" y2="210.66" stroke="#111" stroke-width="1.1"/>
<rect x="282.7" y="226.68" width="2.6" height="38.32" fill="#2c4a80"/>
<line x1="284" y1="224.96" x2="284" y2="228.39" stroke="#000" stroke-width="0.95"/>
<line x1="282.2" y1="224.96" x2="285.8" y2="224.96" stroke="#111" stroke-width="1.1"/>
<line x1="282.2" y1="228.39" x2="285.8" y2="228.39" stroke="#111" stroke-width="1.1"/>
<rect x="285.3" y="236.97" width="2.6" height="28.03" fill="#74b342"/>
<line x1="286.6" y1="235.26" x2="286.6" y2="238.69" stroke="#000" stroke-width="0.95"/>
<line x1="284.8" y1="235.26" x2="288.4" y2="235.26" stroke="#111" stroke-width="1.1"/>
<line x1="284.8" y1="238.69" x2="288.4" y2="238.69" stroke="#111" stroke-width="1.1"/>
<rect x="287.9" y="232.97" width="2.6" height="32.03" fill="#552063"/>
<line x1="289.2" y1="230.68" x2="289.2" y2="235.26" stroke="#000" stroke-width="0.95"/>
<line x1="287.4" y1="230.68" x2="291" y2="230.68" stroke="#111" stroke-width="1.1"/>
<line x1="287.4" y1="235.26" x2="291" y2="235.26" stroke="#111" stroke-width="1.1"/>
<rect x="294.4" y="208.37" width="2.6" height="56.63" fill="#a6022c"/>
<line x1="295.7" y1="207.47" x2="295.7" y2="209.27" stroke="#000" stroke-width="0.95"/>
<line x1="293.9" y1="207.47" x2="297.5" y2="207.47" stroke="#111" stroke-width="1.1"/>
<line x1="293.9" y1="209.27" x2="297.5" y2="209.27" stroke="#111" stroke-width="1.1"/>
<rect x="297" y="246.12" width="2.6" height="18.88" fill="#2c4a80"/>
<line x1="298.3" y1="245.22" x2="298.3" y2="247.02" stroke="#000" stroke-width="0.95"/>
<line x1="296.5" y1="245.22" x2="300.1" y2="245.22" stroke="#111" stroke-width="1.1"/>
<line x1="296.5" y1="247.02" x2="300.1" y2="247.02" stroke="#111" stroke-width="1.1"/>
<rect x="299.6" y="256.42" width="2.6" height="8.58" fill="#74b342"/>
<line x1="300.9" y1="255.28" x2="300.9" y2="257.56" stroke="#000" stroke-width="0.95"/>
<line x1="299.1" y1="255.28" x2="302.7" y2="255.28" stroke="#111" stroke-width="1.1"/>
<line x1="299.1" y1="257.56" x2="302.7" y2="257.56" stroke="#111" stroke-width="1.1"/>
<rect x="302.2" y="254.13" width="2.6" height="10.87" fill="#552063"/>
<line x1="303.5" y1="252.99" x2="303.5" y2="255.28" stroke="#000" stroke-width="0.95"/>
<line x1="301.7" y1="252.99" x2="305.3" y2="252.99" stroke="#111" stroke-width="1.1"/>
<line x1="301.7" y1="255.28" x2="305.3" y2="255.28" stroke="#111" stroke-width="1.1"/>
<rect x="308.7" y="207.8" width="2.6" height="57.2" fill="#a6022c"/>
<line x1="310" y1="203.8" x2="310" y2="211.8" stroke="#000" stroke-width="0.95"/>
<line x1="308.2" y1="203.8" x2="311.8" y2="203.8" stroke="#111" stroke-width="1.1"/>
<line x1="308.2" y1="211.8" x2="311.8" y2="211.8" stroke="#111" stroke-width="1.1"/>
<rect x="311.3" y="242.12" width="2.6" height="22.88" fill="#2c4a80"/>
<line x1="312.6" y1="241.22" x2="312.6" y2="243.02" stroke="#000" stroke-width="0.95"/>
<line x1="310.8" y1="241.22" x2="314.4" y2="241.22" stroke="#111" stroke-width="1.1"/>
<line x1="310.8" y1="243.02" x2="314.4" y2="243.02" stroke="#111" stroke-width="1.1"/>
<rect x="313.9" y="248.41" width="2.6" height="16.59" fill="#74b342"/>
<line x1="315.2" y1="247.51" x2="315.2" y2="249.31" stroke="#000" stroke-width="0.95"/>
<line x1="313.4" y1="247.51" x2="317" y2="247.51" stroke="#111" stroke-width="1.1"/>
<line x1="313.4" y1="249.31" x2="317" y2="249.31" stroke="#111" stroke-width="1.1"/>
<rect x="316.5" y="242.12" width="2.6" height="22.88" fill="#552063"/>
<line x1="317.8" y1="240.98" x2="317.8" y2="243.26" stroke="#000" stroke-width="0.95"/>
<line x1="316" y1="240.98" x2="319.6" y2="240.98" stroke="#111" stroke-width="1.1"/>
<line x1="316" y1="243.26" x2="319.6" y2="243.26" stroke="#111" stroke-width="1.1"/>
<line x1="206.4" y1="265" x2="323.3" y2="265" stroke="#111" stroke-width="1.3"/>
<line x1="206.4" y1="265" x2="206.4" y2="268.2" stroke="#111" stroke-width="0.9"/>
<line x1="220.7" y1="265" x2="220.7" y2="268.2" stroke="#111" stroke-width="0.9"/>
<line x1="235" y1="265" x2="235" y2="268.2" stroke="#111" stroke-width="0.9"/>
<line x1="249.3" y1="265" x2="249.3" y2="268.2" stroke="#111" stroke-width="0.9"/>
<line x1="263.6" y1="265" x2="263.6" y2="268.2" stroke="#111" stroke-width="0.9"/>
<line x1="277.9" y1="265" x2="277.9" y2="268.2" stroke="#111" stroke-width="0.9"/>
<line x1="292.2" y1="265" x2="292.2" y2="268.2" stroke="#111" stroke-width="0.9"/>
<line x1="306.5" y1="265" x2="306.5" y2="268.2" stroke="#111" stroke-width="0.9"/>
<line x1="320.8" y1="265" x2="320.8" y2="268.2" stroke="#111" stroke-width="0.9"/>
<text transform="translate(216.55,274.2) rotate(-45)" x="0" y="0" font-size="7.8" fill="#111" stroke="#111" stroke-width="0.15" text-anchor="end" textLength="23.53" lengthAdjust="spacingAndGlyphs">ABCE1</text>
<text transform="translate(230.85,274.2) rotate(-45)" x="0" y="0" font-size="7.8" fill="#111" stroke="#111" stroke-width="0.15" text-anchor="end" textLength="18.74" lengthAdjust="spacingAndGlyphs">CCT3</text>
<text transform="translate(245.15,274.2) rotate(-45)" x="0" y="0" font-size="7.8" fill="#111" stroke="#111" stroke-width="0.15" text-anchor="end" textLength="19.14" lengthAdjust="spacingAndGlyphs">DHX9</text>
<text transform="translate(259.45,274.2) rotate(-45)" x="0" y="0" font-size="7.8" fill="#111" stroke="#111" stroke-width="0.15" text-anchor="end" textLength="13.56" lengthAdjust="spacingAndGlyphs">DTL</text>
<text transform="translate(273.75,274.2) rotate(-45)" x="0" y="0" font-size="7.8" fill="#111" stroke="#111" stroke-width="0.15" text-anchor="end" textLength="23.14" lengthAdjust="spacingAndGlyphs">G3BP1</text>
<text transform="translate(288.05,274.2) rotate(-45)" x="0" y="0" font-size="7.8" fill="#111" stroke="#111" stroke-width="0.15" text-anchor="end" textLength="14.36" lengthAdjust="spacingAndGlyphs">ILF3</text>
<text transform="translate(302.35,274.2) rotate(-45)" x="0" y="0" font-size="7.8" fill="#111" stroke="#111" stroke-width="0.15" text-anchor="end" textLength="23.93" lengthAdjust="spacingAndGlyphs">NOLC1</text>
<text transform="translate(316.65,274.2) rotate(-45)" x="0" y="0" font-size="7.8" fill="#111" stroke="#111" stroke-width="0.15" text-anchor="end" textLength="21" lengthAdjust="spacingAndGlyphs">PAICS</text>
<line x1="352.6" y1="173.3" x2="352.6" y2="264.2" stroke="#222" stroke-width="1.4"/>
<line x1="349.6" y1="175.82" x2="352.6" y2="175.82" stroke="#111" stroke-width="1.1"/>
<text x="345.9" y="178.22" font-size="7.5" fill="#222" stroke="#222" stroke-width="0.15" text-anchor="end">1.4</text>
<line x1="349.6" y1="188.36" x2="352.6" y2="188.36" stroke="#111" stroke-width="1.1"/>
<text x="345.9" y="190.76" font-size="7.5" fill="#222" stroke="#222" stroke-width="0.15" text-anchor="end">1.2</text>
<line x1="349.6" y1="200.9" x2="352.6" y2="200.9" stroke="#111" stroke-width="1.1"/>
<text x="345.9" y="203.3" font-size="7.5" fill="#222" stroke="#222" stroke-width="0.15" text-anchor="end">1</text>
<line x1="349.6" y1="213.44" x2="352.6" y2="213.44" stroke="#111" stroke-width="1.1"/>
<text x="345.9" y="215.84" font-size="7.5" fill="#222" stroke="#222" stroke-width="0.15" text-anchor="end">0.8</text>
<line x1="349.6" y1="225.98" x2="352.6" y2="225.98" stroke="#111" stroke-width="1.1"/>
<text x="345.9" y="228.38" font-size="7.5" fill="#222" stroke="#222" stroke-width="0.15" text-anchor="end">0.6</text>
<line x1="349.6" y1="238.52" x2="352.6" y2="238.52" stroke="#111" stroke-width="1.1"/>
<text x="345.9" y="240.92" font-size="7.5" fill="#222" stroke="#222" stroke-width="0.15" text-anchor="end">0.4</text>
<line x1="349.6" y1="251.06" x2="352.6" y2="251.06" stroke="#111" stroke-width="1.1"/>
<text x="345.9" y="253.46" font-size="7.5" fill="#222" stroke="#222" stroke-width="0.15" text-anchor="end">0.2</text>
<line x1="349.6" y1="263.6" x2="352.6" y2="263.6" stroke="#111" stroke-width="1.1"/>
<text x="345.9" y="266" font-size="7.5" fill="#222" stroke="#222" stroke-width="0.15" text-anchor="end">0</text>
<rect x="354.2" y="200.9" width="2.95" height="62.7" fill="#a6022c"/>
<line x1="355.68" y1="185.85" x2="355.68" y2="215.95" stroke="#000" stroke-width="0.95"/>
<line x1="353.78" y1="185.85" x2="357.58" y2="185.85" stroke="#111" stroke-width="1.1"/>
<line x1="353.78" y1="215.95" x2="357.58" y2="215.95" stroke="#111" stroke-width="1.1"/>
<rect x="357.15" y="237.27" width="2.95" height="26.33" fill="#2c4a80"/>
<line x1="358.63" y1="234.76" x2="358.63" y2="239.77" stroke="#000" stroke-width="0.95"/>
<line x1="356.73" y1="234.76" x2="360.53" y2="234.76" stroke="#111" stroke-width="1.1"/>
<line x1="356.73" y1="239.77" x2="360.53" y2="239.77" stroke="#111" stroke-width="1.1"/>
<rect x="360.1" y="239.77" width="2.95" height="23.83" fill="#74b342"/>
<line x1="361.58" y1="238.52" x2="361.58" y2="241.03" stroke="#000" stroke-width="0.95"/>
<line x1="359.68" y1="238.52" x2="363.48" y2="238.52" stroke="#111" stroke-width="1.1"/>
<line x1="359.68" y1="241.03" x2="363.48" y2="241.03" stroke="#111" stroke-width="1.1"/>
<rect x="363.05" y="230.37" width="2.95" height="33.23" fill="#552063"/>
<line x1="364.53" y1="227.86" x2="364.53" y2="232.88" stroke="#000" stroke-width="0.95"/>
<line x1="362.63" y1="227.86" x2="366.43" y2="227.86" stroke="#111" stroke-width="1.1"/>
<line x1="362.63" y1="232.88" x2="366.43" y2="232.88" stroke="#111" stroke-width="1.1"/>
<rect x="369.2" y="200.9" width="2.95" height="62.7" fill="#a6022c"/>
<line x1="370.68" y1="183.34" x2="370.68" y2="218.46" stroke="#000" stroke-width="0.95"/>
<line x1="368.78" y1="183.34" x2="372.58" y2="183.34" stroke="#111" stroke-width="1.1"/>
<line x1="368.78" y1="218.46" x2="372.58" y2="218.46" stroke="#111" stroke-width="1.1"/>
<rect x="372.15" y="219.71" width="2.95" height="43.89" fill="#2c4a80"/>
<line x1="373.63" y1="218.81" x2="373.63" y2="220.61" stroke="#000" stroke-width="0.95"/>
<line x1="371.73" y1="218.81" x2="375.53" y2="218.81" stroke="#111" stroke-width="1.1"/>
<line x1="371.73" y1="220.61" x2="375.53" y2="220.61" stroke="#111" stroke-width="1.1"/>
<rect x="375.1" y="220.96" width="2.95" height="42.64" fill="#74b342"/>
<line x1="376.58" y1="220.06" x2="376.58" y2="221.86" stroke="#000" stroke-width="0.95"/>
<line x1="374.68" y1="220.06" x2="378.48" y2="220.06" stroke="#111" stroke-width="1.1"/>
<line x1="374.68" y1="221.86" x2="378.48" y2="221.86" stroke="#111" stroke-width="1.1"/>
<rect x="378.05" y="218.46" width="2.95" height="45.14" fill="#552063"/>
<line x1="379.53" y1="214.69" x2="379.53" y2="222.22" stroke="#000" stroke-width="0.95"/>
<line x1="377.63" y1="214.69" x2="381.43" y2="214.69" stroke="#111" stroke-width="1.1"/>
<line x1="377.63" y1="222.22" x2="381.43" y2="222.22" stroke="#111" stroke-width="1.1"/>
<rect x="384.2" y="200.9" width="2.95" height="62.7" fill="#a6022c"/>
<line x1="385.68" y1="194.63" x2="385.68" y2="207.17" stroke="#000" stroke-width="0.95"/>
<line x1="383.78" y1="194.63" x2="387.58" y2="194.63" stroke="#111" stroke-width="1.1"/>
<line x1="383.78" y1="207.17" x2="387.58" y2="207.17" stroke="#111" stroke-width="1.1"/>
<rect x="387.15" y="237.27" width="2.95" height="26.33" fill="#2c4a80"/>
<line x1="388.63" y1="236.37" x2="388.63" y2="238.17" stroke="#000" stroke-width="0.95"/>
<line x1="386.73" y1="236.37" x2="390.53" y2="236.37" stroke="#111" stroke-width="1.1"/>
<line x1="386.73" y1="238.17" x2="390.53" y2="238.17" stroke="#111" stroke-width="1.1"/>
<rect x="390.1" y="230.37" width="2.95" height="33.23" fill="#74b342"/>
<line x1="391.58" y1="228.49" x2="391.58" y2="232.25" stroke="#000" stroke-width="0.95"/>
<line x1="389.68" y1="228.49" x2="393.48" y2="228.49" stroke="#111" stroke-width="1.1"/>
<line x1="389.68" y1="232.25" x2="393.48" y2="232.25" stroke="#111" stroke-width="1.1"/>
<rect x="393.05" y="211.56" width="2.95" height="52.04" fill="#552063"/>
<line x1="394.53" y1="210.66" x2="394.53" y2="212.46" stroke="#000" stroke-width="0.95"/>
<line x1="392.63" y1="210.66" x2="396.43" y2="210.66" stroke="#111" stroke-width="1.1"/>
<line x1="392.63" y1="212.46" x2="396.43" y2="212.46" stroke="#111" stroke-width="1.1"/>
<rect x="399.2" y="200.9" width="2.95" height="62.7" fill="#a6022c"/>
<line x1="400.68" y1="195.26" x2="400.68" y2="206.54" stroke="#000" stroke-width="0.95"/>
<line x1="398.78" y1="195.26" x2="402.58" y2="195.26" stroke="#111" stroke-width="1.1"/>
<line x1="398.78" y1="206.54" x2="402.58" y2="206.54" stroke="#111" stroke-width="1.1"/>
<rect x="402.15" y="234.13" width="2.95" height="29.47" fill="#2c4a80"/>
<line x1="403.63" y1="224.1" x2="403.63" y2="244.16" stroke="#000" stroke-width="0.95"/>
<line x1="401.73" y1="224.1" x2="405.53" y2="224.1" stroke="#111" stroke-width="1.1"/>
<line x1="401.73" y1="244.16" x2="405.53" y2="244.16" stroke="#111" stroke-width="1.1"/>
<rect x="405.1" y="234.76" width="2.95" height="28.84" fill="#74b342"/>
<line x1="406.58" y1="232.25" x2="406.58" y2="237.27" stroke="#000" stroke-width="0.95"/>
<line x1="404.68" y1="232.25" x2="408.48" y2="232.25" stroke="#111" stroke-width="1.1"/>
<line x1="404.68" y1="237.27" x2="408.48" y2="237.27" stroke="#111" stroke-width="1.1"/>
<rect x="408.05" y="224.1" width="2.95" height="39.5" fill="#552063"/>
<line x1="409.53" y1="219.71" x2="409.53" y2="228.49" stroke="#000" stroke-width="0.95"/>
<line x1="407.63" y1="219.71" x2="411.43" y2="219.71" stroke="#111" stroke-width="1.1"/>
<line x1="407.63" y1="228.49" x2="411.43" y2="228.49" stroke="#111" stroke-width="1.1"/>
<rect x="414.2" y="200.9" width="2.95" height="62.7" fill="#a6022c"/>
<line x1="415.68" y1="190.87" x2="415.68" y2="210.93" stroke="#000" stroke-width="0.95"/>
<line x1="413.78" y1="190.87" x2="417.58" y2="190.87" stroke="#111" stroke-width="1.1"/>
<line x1="413.78" y1="210.93" x2="417.58" y2="210.93" stroke="#111" stroke-width="1.1"/>
<rect x="417.15" y="241.66" width="2.95" height="21.94" fill="#2c4a80"/>
<line x1="418.63" y1="240.76" x2="418.63" y2="242.56" stroke="#000" stroke-width="0.95"/>
<line x1="416.73" y1="240.76" x2="420.53" y2="240.76" stroke="#111" stroke-width="1.1"/>
<line x1="416.73" y1="242.56" x2="420.53" y2="242.56" stroke="#111" stroke-width="1.1"/>
<rect x="420.1" y="232.88" width="2.95" height="30.72" fill="#74b342"/>
<line x1="421.58" y1="231.98" x2="421.58" y2="233.78" stroke="#000" stroke-width="0.95"/>
<line x1="419.68" y1="231.98" x2="423.48" y2="231.98" stroke="#111" stroke-width="1.1"/>
<line x1="419.68" y1="233.78" x2="423.48" y2="233.78" stroke="#111" stroke-width="1.1"/>
<rect x="423.05" y="226.61" width="2.95" height="36.99" fill="#552063"/>
<line x1="424.53" y1="225.71" x2="424.53" y2="227.51" stroke="#000" stroke-width="0.95"/>
<line x1="422.63" y1="225.71" x2="426.43" y2="225.71" stroke="#111" stroke-width="1.1"/>
<line x1="422.63" y1="227.51" x2="426.43" y2="227.51" stroke="#111" stroke-width="1.1"/>
<rect x="429.2" y="200.9" width="2.95" height="62.7" fill="#a6022c"/>
<line x1="430.68" y1="197.14" x2="430.68" y2="204.66" stroke="#000" stroke-width="0.95"/>
<line x1="428.78" y1="197.14" x2="432.58" y2="197.14" stroke="#111" stroke-width="1.1"/>
<line x1="428.78" y1="204.66" x2="432.58" y2="204.66" stroke="#111" stroke-width="1.1"/>
<rect x="432.15" y="231" width="2.95" height="32.6" fill="#2c4a80"/>
<line x1="433.63" y1="230.1" x2="433.63" y2="231.9" stroke="#000" stroke-width="0.95"/>
<line x1="431.73" y1="230.1" x2="435.53" y2="230.1" stroke="#111" stroke-width="1.1"/>
<line x1="431.73" y1="231.9" x2="435.53" y2="231.9" stroke="#111" stroke-width="1.1"/>
<rect x="435.1" y="228.49" width="2.95" height="35.11" fill="#74b342"/>
<line x1="436.58" y1="227.59" x2="436.58" y2="229.39" stroke="#000" stroke-width="0.95"/>
<line x1="434.68" y1="227.59" x2="438.48" y2="227.59" stroke="#111" stroke-width="1.1"/>
<line x1="434.68" y1="229.39" x2="438.48" y2="229.39" stroke="#111" stroke-width="1.1"/>
<rect x="438.05" y="219.08" width="2.95" height="44.52" fill="#552063"/>
<line x1="439.53" y1="217.2" x2="439.53" y2="220.96" stroke="#000" stroke-width="0.95"/>
<line x1="437.63" y1="217.2" x2="441.43" y2="217.2" stroke="#111" stroke-width="1.1"/>
<line x1="437.63" y1="220.96" x2="441.43" y2="220.96" stroke="#111" stroke-width="1.1"/>
<rect x="444.2" y="200.9" width="2.95" height="62.7" fill="#a6022c"/>
<line x1="445.68" y1="199.65" x2="445.68" y2="202.15" stroke="#000" stroke-width="0.95"/>
<line x1="443.78" y1="199.65" x2="447.58" y2="199.65" stroke="#111" stroke-width="1.1"/>
<line x1="443.78" y1="202.15" x2="447.58" y2="202.15" stroke="#111" stroke-width="1.1"/>
<rect x="447.15" y="237.27" width="2.95" height="26.33" fill="#2c4a80"/>
<line x1="448.63" y1="236.37" x2="448.63" y2="238.17" stroke="#000" stroke-width="0.95"/>
<line x1="446.73" y1="236.37" x2="450.53" y2="236.37" stroke="#111" stroke-width="1.1"/>
<line x1="446.73" y1="238.17" x2="450.53" y2="238.17" stroke="#111" stroke-width="1.1"/>
<rect x="450.1" y="236.01" width="2.95" height="27.59" fill="#74b342"/>
<line x1="451.58" y1="235.11" x2="451.58" y2="236.91" stroke="#000" stroke-width="0.95"/>
<line x1="449.68" y1="235.11" x2="453.48" y2="235.11" stroke="#111" stroke-width="1.1"/>
<line x1="449.68" y1="236.91" x2="453.48" y2="236.91" stroke="#111" stroke-width="1.1"/>
<rect x="453.05" y="227.86" width="2.95" height="35.74" fill="#552063"/>
<line x1="454.53" y1="226.96" x2="454.53" y2="228.76" stroke="#000" stroke-width="0.95"/>
<line x1="452.63" y1="226.96" x2="456.43" y2="226.96" stroke="#111" stroke-width="1.1"/>
<line x1="452.63" y1="228.76" x2="456.43" y2="228.76" stroke="#111" stroke-width="1.1"/>
<rect x="459.2" y="200.9" width="2.95" height="62.7" fill="#a6022c"/>
<line x1="460.68" y1="195.88" x2="460.68" y2="205.92" stroke="#000" stroke-width="0.95"/>
<line x1="458.78" y1="195.88" x2="462.58" y2="195.88" stroke="#111" stroke-width="1.1"/>
<line x1="458.78" y1="205.92" x2="462.58" y2="205.92" stroke="#111" stroke-width="1.1"/>
<rect x="462.15" y="247.3" width="2.95" height="16.3" fill="#2c4a80"/>
<line x1="463.63" y1="246.4" x2="463.63" y2="248.2" stroke="#000" stroke-width="0.95"/>
<line x1="461.73" y1="246.4" x2="465.53" y2="246.4" stroke="#111" stroke-width="1.1"/>
<line x1="461.73" y1="248.2" x2="465.53" y2="248.2" stroke="#111" stroke-width="1.1"/>
<rect x="465.1" y="242.28" width="2.95" height="21.32" fill="#74b342"/>
<line x1="466.58" y1="240.4" x2="466.58" y2="244.16" stroke="#000" stroke-width="0.95"/>
<line x1="464.68" y1="240.4" x2="468.48" y2="240.4" stroke="#111" stroke-width="1.1"/>
<line x1="464.68" y1="244.16" x2="468.48" y2="244.16" stroke="#111" stroke-width="1.1"/>
<rect x="468.05" y="231.62" width="2.95" height="31.98" fill="#552063"/>
<line x1="469.53" y1="230.72" x2="469.53" y2="232.52" stroke="#000" stroke-width="0.95"/>
<line x1="467.63" y1="230.72" x2="471.43" y2="230.72" stroke="#111" stroke-width="1.1"/>
<line x1="467.63" y1="232.52" x2="471.43" y2="232.52" stroke="#111" stroke-width="1.1"/>
<line x1="352.6" y1="263.6" x2="475.4" y2="263.6" stroke="#111" stroke-width="1.3"/>
<line x1="352.6" y1="263.6" x2="352.6" y2="266.8" stroke="#111" stroke-width="0.9"/>
<line x1="367.6" y1="263.6" x2="367.6" y2="266.8" stroke="#111" stroke-width="0.9"/>
<line x1="382.6" y1="263.6" x2="382.6" y2="266.8" stroke="#111" stroke-width="0.9"/>
<line x1="397.6" y1="263.6" x2="397.6" y2="266.8" stroke="#111" stroke-width="0.9"/>
<line x1="412.6" y1="263.6" x2="412.6" y2="266.8" stroke="#111" stroke-width="0.9"/>
<line x1="427.6" y1="263.6" x2="427.6" y2="266.8" stroke="#111" stroke-width="0.9"/>
<line x1="442.6" y1="263.6" x2="442.6" y2="266.8" stroke="#111" stroke-width="0.9"/>
<line x1="457.6" y1="263.6" x2="457.6" y2="266.8" stroke="#111" stroke-width="0.9"/>
<line x1="472.6" y1="263.6" x2="472.6" y2="266.8" stroke="#111" stroke-width="0.9"/>
<text transform="translate(363.1,273.2) rotate(-45)" x="0" y="0" font-size="7.8" fill="#111" stroke="#111" stroke-width="0.15" text-anchor="end" textLength="23.53" lengthAdjust="spacingAndGlyphs">ABCE1</text>
<text transform="translate(378.1,273.2) rotate(-45)" x="0" y="0" font-size="7.8" fill="#111" stroke="#111" stroke-width="0.15" text-anchor="end" textLength="18.74" lengthAdjust="spacingAndGlyphs">CCT3</text>
<text transform="translate(393.1,273.2) rotate(-45)" x="0" y="0" font-size="7.8" fill="#111" stroke="#111" stroke-width="0.15" text-anchor="end" textLength="19.14" lengthAdjust="spacingAndGlyphs">DHX9</text>
<text transform="translate(408.1,273.2) rotate(-45)" x="0" y="0" font-size="7.8" fill="#111" stroke="#111" stroke-width="0.15" text-anchor="end" textLength="13.56" lengthAdjust="spacingAndGlyphs">DTL</text>
<text transform="translate(423.1,273.2) rotate(-45)" x="0" y="0" font-size="7.8" fill="#111" stroke="#111" stroke-width="0.15" text-anchor="end" textLength="23.14" lengthAdjust="spacingAndGlyphs">G3BP1</text>
<text transform="translate(438.1,273.2) rotate(-45)" x="0" y="0" font-size="7.8" fill="#111" stroke="#111" stroke-width="0.15" text-anchor="end" textLength="14.36" lengthAdjust="spacingAndGlyphs">ILF3</text>
<text transform="translate(453.1,273.2) rotate(-45)" x="0" y="0" font-size="7.8" fill="#111" stroke="#111" stroke-width="0.15" text-anchor="end" textLength="23.93" lengthAdjust="spacingAndGlyphs">NOLC1</text>
<text transform="translate(468.1,273.2) rotate(-45)" x="0" y="0" font-size="7.8" fill="#111" stroke="#111" stroke-width="0.15" text-anchor="end" textLength="21" lengthAdjust="spacingAndGlyphs">PAICS</text>
<rect x="479.9" y="197.2" width="4.3" height="4.3" fill="#a6022c"/>
<text x="487.3" y="201.95" font-size="7.8" fill="#1a1a1a" stroke="#1a1a1a" stroke-width="0.15" textLength="21.76" lengthAdjust="spacingAndGlyphs">DMSO</text>
<rect x="479.9" y="208.5" width="4.3" height="4.3" fill="#2c4a80"/>
<text x="487.3" y="213.25" font-size="7.8" fill="#1a1a1a" stroke="#1a1a1a" stroke-width="0.15" textLength="14.51" lengthAdjust="spacingAndGlyphs">CYT</text>
<rect x="479.9" y="219.9" width="4.3" height="4.3" fill="#74b342"/>
<text x="487.3" y="224.65" font-size="7.8" fill="#1a1a1a" stroke="#1a1a1a" stroke-width="0.15" textLength="15.58" lengthAdjust="spacingAndGlyphs">MRT</text>
<rect x="479.9" y="231.4" width="4.3" height="4.3" fill="#552063"/>
<text x="487.3" y="236.15" font-size="7.8" fill="#1a1a1a" stroke="#1a1a1a" stroke-width="0.15" textLength="9.68" lengthAdjust="spacingAndGlyphs">BX</text>
<text x="273.2" y="337.89" font-size="8.2" fill="#111" stroke="#111" stroke-width="0.15" textLength="30.8" lengthAdjust="spacingAndGlyphs">MOLM14</text>
<text x="389.1" y="337.89" font-size="8.2" fill="#111" stroke="#111" stroke-width="0.15" textLength="31.8" lengthAdjust="spacingAndGlyphs">OCIAML5</text>
<text transform="translate(214.1,428) rotate(-90)" x="0" y="0" font-size="9.7" fill="#111" stroke="#111" stroke-width="0.15" textLength="82.4" lengthAdjust="spacingAndGlyphs">Relative mRNA level</text>
<line x1="239.1" y1="340.7" x2="239.1" y2="434.8" stroke="#222" stroke-width="1.4"/>
<line x1="236.1" y1="343.6" x2="239.1" y2="343.6" stroke="#111" stroke-width="1.1"/>
<text x="232.9" y="346" font-size="7.5" fill="#222" stroke="#222" stroke-width="0.15" text-anchor="end">3.</text>
<line x1="236.1" y1="366.25" x2="239.1" y2="366.25" stroke="#111" stroke-width="1.1"/>
<text x="232.9" y="368.65" font-size="7.5" fill="#222" stroke="#222" stroke-width="0.15" text-anchor="end">2.25</text>
<line x1="236.1" y1="388.9" x2="239.1" y2="388.9" stroke="#111" stroke-width="1.1"/>
<text x="232.9" y="391.3" font-size="7.5" fill="#222" stroke="#222" stroke-width="0.15" text-anchor="end">1.5</text>
<line x1="236.1" y1="411.55" x2="239.1" y2="411.55" stroke="#111" stroke-width="1.1"/>
<text x="232.9" y="413.95" font-size="7.5" fill="#222" stroke="#222" stroke-width="0.15" text-anchor="end">0.75</text>
<line x1="236.1" y1="434.2" x2="239.1" y2="434.2" stroke="#111" stroke-width="1.1"/>
<text x="232.9" y="436.6" font-size="7.5" fill="#222" stroke="#222" stroke-width="0.15" text-anchor="end">0.</text>
<rect x="243.2" y="404" width="4.5" height="30.2" fill="#a6022c"/>
<rect x="247.7" y="415.17" width="4.5" height="19.03" fill="#2c4a80"/>
<line x1="249.95" y1="414.27" x2="249.95" y2="416.07" stroke="#000" stroke-width="0.95"/>
<line x1="247.85" y1="414.27" x2="252.05" y2="414.27" stroke="#111" stroke-width="1.1"/>
<line x1="247.85" y1="416.07" x2="252.05" y2="416.07" stroke="#111" stroke-width="1.1"/>
<rect x="252.2" y="426.65" width="4.5" height="7.55" fill="#74b342"/>
<line x1="254.45" y1="423.63" x2="254.45" y2="429.67" stroke="#000" stroke-width="0.95"/>
<line x1="252.35" y1="423.63" x2="256.55" y2="423.63" stroke="#111" stroke-width="1.1"/>
<line x1="252.35" y1="429.67" x2="256.55" y2="429.67" stroke="#111" stroke-width="1.1"/>
<rect x="256.7" y="420.31" width="4.5" height="13.89" fill="#552063"/>
<line x1="258.95" y1="414.87" x2="258.95" y2="425.74" stroke="#000" stroke-width="0.95"/>
<line x1="256.85" y1="414.87" x2="261.05" y2="414.87" stroke="#111" stroke-width="1.1"/>
<line x1="256.85" y1="425.74" x2="261.05" y2="425.74" stroke="#111" stroke-width="1.1"/>
<rect x="261.2" y="420.31" width="4.5" height="13.89" fill="#e9941a"/>
<line x1="263.45" y1="412.15" x2="263.45" y2="428.46" stroke="#000" stroke-width="0.95"/>
<line x1="261.35" y1="412.15" x2="265.55" y2="412.15" stroke="#111" stroke-width="1.1"/>
<line x1="261.35" y1="428.46" x2="265.55" y2="428.46" stroke="#111" stroke-width="1.1"/>
<rect x="274.2" y="404" width="4.5" height="30.2" fill="#a6022c"/>
<rect x="278.7" y="421.21" width="4.5" height="12.99" fill="#2c4a80"/>
<line x1="280.95" y1="420.31" x2="280.95" y2="422.11" stroke="#000" stroke-width="0.95"/>
<line x1="278.85" y1="420.31" x2="283.05" y2="420.31" stroke="#111" stroke-width="1.1"/>
<line x1="278.85" y1="422.11" x2="283.05" y2="422.11" stroke="#111" stroke-width="1.1"/>
<rect x="283.2" y="419.1" width="4.5" height="15.1" fill="#74b342"/>
<line x1="285.45" y1="413.66" x2="285.45" y2="424.54" stroke="#000" stroke-width="0.95"/>
<line x1="283.35" y1="413.66" x2="287.55" y2="413.66" stroke="#111" stroke-width="1.1"/>
<line x1="283.35" y1="424.54" x2="287.55" y2="424.54" stroke="#111" stroke-width="1.1"/>
<rect x="287.7" y="364.74" width="4.5" height="69.46" fill="#552063"/>
<line x1="289.95" y1="363.23" x2="289.95" y2="366.25" stroke="#000" stroke-width="0.95"/>
<line x1="287.85" y1="363.23" x2="292.05" y2="363.23" stroke="#111" stroke-width="1.1"/>
<line x1="287.85" y1="366.25" x2="292.05" y2="366.25" stroke="#111" stroke-width="1.1"/>
<rect x="292.2" y="397.96" width="4.5" height="36.24" fill="#e9941a"/>
<line x1="294.45" y1="380.44" x2="294.45" y2="415.48" stroke="#000" stroke-width="0.95"/>
<line x1="292.35" y1="380.44" x2="296.55" y2="380.44" stroke="#111" stroke-width="1.1"/>
<line x1="292.35" y1="415.48" x2="296.55" y2="415.48" stroke="#111" stroke-width="1.1"/>
<rect x="305.2" y="404" width="4.5" height="30.2" fill="#a6022c"/>
<rect x="309.7" y="410.04" width="4.5" height="24.16" fill="#2c4a80"/>
<line x1="311.95" y1="401.58" x2="311.95" y2="418.5" stroke="#000" stroke-width="0.95"/>
<line x1="309.85" y1="401.58" x2="314.05" y2="401.58" stroke="#111" stroke-width="1.1"/>
<line x1="309.85" y1="418.5" x2="314.05" y2="418.5" stroke="#111" stroke-width="1.1"/>
<rect x="314.2" y="413.06" width="4.5" height="21.14" fill="#74b342"/>
<line x1="316.45" y1="405.51" x2="316.45" y2="420.61" stroke="#000" stroke-width="0.95"/>
<line x1="314.35" y1="405.51" x2="318.55" y2="405.51" stroke="#111" stroke-width="1.1"/>
<line x1="314.35" y1="420.61" x2="318.55" y2="420.61" stroke="#111" stroke-width="1.1"/>
<rect x="318.7" y="428.76" width="4.5" height="5.44" fill="#552063"/>
<line x1="320.95" y1="422.72" x2="320.95" y2="434.8" stroke="#000" stroke-width="0.95"/>
<line x1="318.85" y1="422.72" x2="323.05" y2="422.72" stroke="#111" stroke-width="1.1"/>
<line x1="318.85" y1="434.8" x2="323.05" y2="434.8" stroke="#111" stroke-width="1.1"/>
<rect x="323.2" y="431.18" width="4.5" height="3.02" fill="#e9941a"/>
<line x1="325.45" y1="429.07" x2="325.45" y2="433.29" stroke="#000" stroke-width="0.95"/>
<line x1="323.35" y1="429.07" x2="327.55" y2="429.07" stroke="#111" stroke-width="1.1"/>
<line x1="323.35" y1="433.29" x2="327.55" y2="433.29" stroke="#111" stroke-width="1.1"/>
<line x1="239.1" y1="434.2" x2="333.7" y2="434.2" stroke="#111" stroke-width="1.3"/>
<line x1="239.1" y1="434.2" x2="239.1" y2="437.2" stroke="#111" stroke-width="0.9"/>
<line x1="270.1" y1="434.2" x2="270.1" y2="437.2" stroke="#111" stroke-width="0.9"/>
<line x1="301.1" y1="434.2" x2="301.1" y2="437.2" stroke="#111" stroke-width="0.9"/>
<line x1="332.1" y1="434.2" x2="332.1" y2="437.2" stroke="#111" stroke-width="0.9"/>
<text x="247" y="447.05" font-size="8.1" fill="#111" stroke="#111" stroke-width="0.15" textLength="15.8" lengthAdjust="spacingAndGlyphs">MYC</text>
<text x="275.5" y="447.05" font-size="8.1" fill="#111" stroke="#111" stroke-width="0.15" textLength="19" lengthAdjust="spacingAndGlyphs">IKBKE</text>
<text x="306.6" y="447.05" font-size="8.1" fill="#111" stroke="#111" stroke-width="0.15" textLength="16.4" lengthAdjust="spacingAndGlyphs">TBK1</text>
<line x1="363.5" y1="347.1" x2="363.5" y2="434.2" stroke="#222" stroke-width="1.4"/>
<line x1="360.5" y1="349.15" x2="363.5" y2="349.15" stroke="#111" stroke-width="1.1"/>
<text x="357.2" y="351.55" font-size="7.5" fill="#222" stroke="#222" stroke-width="0.15" text-anchor="end">3.</text>
<line x1="360.5" y1="370.26" x2="363.5" y2="370.26" stroke="#111" stroke-width="1.1"/>
<text x="357.2" y="372.66" font-size="7.5" fill="#222" stroke="#222" stroke-width="0.15" text-anchor="end">2.25</text>
<line x1="360.5" y1="391.38" x2="363.5" y2="391.38" stroke="#111" stroke-width="1.1"/>
<text x="357.2" y="393.77" font-size="7.5" fill="#222" stroke="#222" stroke-width="0.15" text-anchor="end">1.5</text>
<line x1="360.5" y1="412.49" x2="363.5" y2="412.49" stroke="#111" stroke-width="1.1"/>
<text x="357.2" y="414.89" font-size="7.5" fill="#222" stroke="#222" stroke-width="0.15" text-anchor="end">0.75</text>
<line x1="360.5" y1="433.6" x2="363.5" y2="433.6" stroke="#111" stroke-width="1.1"/>
<text x="357.2" y="436" font-size="7.5" fill="#222" stroke="#222" stroke-width="0.15" text-anchor="end">0.</text>
<rect x="367.2" y="405.45" width="4.3" height="28.15" fill="#a6022c"/>
<line x1="369.35" y1="402.64" x2="369.35" y2="408.27" stroke="#000" stroke-width="0.95"/>
<line x1="367.35" y1="402.64" x2="371.35" y2="402.64" stroke="#111" stroke-width="1.1"/>
<line x1="367.35" y1="408.27" x2="371.35" y2="408.27" stroke="#111" stroke-width="1.1"/>
<rect x="371.5" y="418.96" width="4.3" height="14.64" fill="#2c4a80"/>
<line x1="373.65" y1="418.06" x2="373.65" y2="419.86" stroke="#000" stroke-width="0.95"/>
<line x1="371.65" y1="418.06" x2="375.65" y2="418.06" stroke="#111" stroke-width="1.1"/>
<line x1="371.65" y1="419.86" x2="375.65" y2="419.86" stroke="#111" stroke-width="1.1"/>
<rect x="375.8" y="419.53" width="4.3" height="14.07" fill="#74b342"/>
<line x1="377.95" y1="418.62" x2="377.95" y2="420.43" stroke="#000" stroke-width="0.95"/>
<line x1="375.95" y1="418.62" x2="379.95" y2="418.62" stroke="#111" stroke-width="1.1"/>
<line x1="375.95" y1="420.43" x2="379.95" y2="420.43" stroke="#111" stroke-width="1.1"/>
<rect x="380.1" y="425.16" width="4.3" height="8.44" fill="#552063"/>
<line x1="382.25" y1="423.75" x2="382.25" y2="426.56" stroke="#000" stroke-width="0.95"/>
<line x1="380.25" y1="423.75" x2="384.25" y2="423.75" stroke="#111" stroke-width="1.1"/>
<line x1="380.25" y1="426.56" x2="384.25" y2="426.56" stroke="#111" stroke-width="1.1"/>
<rect x="384.4" y="419.24" width="4.3" height="14.36" fill="#e9941a"/>
<line x1="386.55" y1="418.34" x2="386.55" y2="420.14" stroke="#000" stroke-width="0.95"/>
<line x1="384.55" y1="418.34" x2="388.55" y2="418.34" stroke="#111" stroke-width="1.1"/>
<line x1="384.55" y1="420.14" x2="388.55" y2="420.14" stroke="#111" stroke-width="1.1"/>
<rect x="395.8" y="405.45" width="4.3" height="28.15" fill="#a6022c"/>
<line x1="397.95" y1="397.85" x2="397.95" y2="413.05" stroke="#000" stroke-width="0.95"/>
<line x1="395.95" y1="397.85" x2="399.95" y2="397.85" stroke="#111" stroke-width="1.1"/>
<line x1="395.95" y1="413.05" x2="399.95" y2="413.05" stroke="#111" stroke-width="1.1"/>
<rect x="400.1" y="424.59" width="4.3" height="9.01" fill="#2c4a80"/>
<line x1="402.25" y1="418.4" x2="402.25" y2="430.79" stroke="#000" stroke-width="0.95"/>
<line x1="400.25" y1="418.4" x2="404.25" y2="418.4" stroke="#111" stroke-width="1.1"/>
<line x1="400.25" y1="430.79" x2="404.25" y2="430.79" stroke="#111" stroke-width="1.1"/>
<rect x="404.4" y="425.16" width="4.3" height="8.44" fill="#74b342"/>
<line x1="406.55" y1="420.09" x2="406.55" y2="430.22" stroke="#000" stroke-width="0.95"/>
<line x1="404.55" y1="420.09" x2="408.55" y2="420.09" stroke="#111" stroke-width="1.1"/>
<line x1="404.55" y1="430.22" x2="408.55" y2="430.22" stroke="#111" stroke-width="1.1"/>
<rect x="408.7" y="357.31" width="4.3" height="76.29" fill="#552063"/>
<line x1="410.85" y1="355.91" x2="410.85" y2="358.72" stroke="#000" stroke-width="0.95"/>
<line x1="408.85" y1="355.91" x2="412.85" y2="355.91" stroke="#111" stroke-width="1.1"/>
<line x1="408.85" y1="358.72" x2="412.85" y2="358.72" stroke="#111" stroke-width="1.1"/>
<rect x="413" y="387.15" width="4.3" height="46.45" fill="#e9941a"/>
<line x1="415.15" y1="386.03" x2="415.15" y2="388.28" stroke="#000" stroke-width="0.95"/>
<line x1="413.15" y1="386.03" x2="417.15" y2="386.03" stroke="#111" stroke-width="1.1"/>
<line x1="413.15" y1="388.28" x2="417.15" y2="388.28" stroke="#111" stroke-width="1.1"/>
<rect x="424.4" y="405.45" width="4.3" height="28.15" fill="#a6022c"/>
<line x1="426.55" y1="404.55" x2="426.55" y2="406.35" stroke="#000" stroke-width="0.95"/>
<line x1="424.55" y1="404.55" x2="428.55" y2="404.55" stroke="#111" stroke-width="1.1"/>
<line x1="424.55" y1="406.35" x2="428.55" y2="406.35" stroke="#111" stroke-width="1.1"/>
<rect x="428.7" y="400.66" width="4.3" height="32.94" fill="#2c4a80"/>
<line x1="430.85" y1="399.76" x2="430.85" y2="401.56" stroke="#000" stroke-width="0.95"/>
<line x1="428.85" y1="399.76" x2="432.85" y2="399.76" stroke="#111" stroke-width="1.1"/>
<line x1="428.85" y1="401.56" x2="432.85" y2="401.56" stroke="#111" stroke-width="1.1"/>
<rect x="433" y="413.9" width="4.3" height="19.7" fill="#74b342"/>
<line x1="435.15" y1="412.49" x2="435.15" y2="415.3" stroke="#000" stroke-width="0.95"/>
<line x1="433.15" y1="412.49" x2="437.15" y2="412.49" stroke="#111" stroke-width="1.1"/>
<line x1="433.15" y1="415.3" x2="437.15" y2="415.3" stroke="#111" stroke-width="1.1"/>
<rect x="437.3" y="429.94" width="4.3" height="3.66" fill="#552063"/>
<line x1="439.45" y1="429.04" x2="439.45" y2="430.84" stroke="#000" stroke-width="0.95"/>
<line x1="437.45" y1="429.04" x2="441.45" y2="429.04" stroke="#111" stroke-width="1.1"/>
<line x1="437.45" y1="430.84" x2="441.45" y2="430.84" stroke="#111" stroke-width="1.1"/>
<rect x="441.6" y="431.91" width="4.3" height="1.69" fill="#e9941a"/>
<line x1="443.75" y1="431.01" x2="443.75" y2="432.81" stroke="#000" stroke-width="0.95"/>
<line x1="441.75" y1="431.01" x2="445.75" y2="431.01" stroke="#111" stroke-width="1.1"/>
<line x1="441.75" y1="432.81" x2="445.75" y2="432.81" stroke="#111" stroke-width="1.1"/>
<line x1="363.5" y1="433.6" x2="450.6" y2="433.6" stroke="#111" stroke-width="1.3"/>
<line x1="363.5" y1="433.6" x2="363.5" y2="436.6" stroke="#111" stroke-width="0.9"/>
<line x1="392.2" y1="433.6" x2="392.2" y2="436.6" stroke="#111" stroke-width="0.9"/>
<line x1="420.9" y1="433.6" x2="420.9" y2="436.6" stroke="#111" stroke-width="0.9"/>
<line x1="449.6" y1="433.6" x2="449.6" y2="436.6" stroke="#111" stroke-width="0.9"/>
<text x="370.2" y="445.65" font-size="8.1" fill="#111" stroke="#111" stroke-width="0.15" textLength="15.8" lengthAdjust="spacingAndGlyphs">MYC</text>
<text x="396.9" y="445.65" font-size="8.1" fill="#111" stroke="#111" stroke-width="0.15" textLength="19.3" lengthAdjust="spacingAndGlyphs">IKBKE</text>
<text x="426.8" y="445.65" font-size="8.1" fill="#111" stroke="#111" stroke-width="0.15" textLength="16.5" lengthAdjust="spacingAndGlyphs">TBK1</text>
<rect x="452.8" y="355.2" width="4.2" height="4.2" fill="#a6022c"/>
<text x="460.1" y="360.02" font-size="8" fill="#1a1a1a" stroke="#1a1a1a" stroke-width="0.15" textLength="18.1" lengthAdjust="spacingAndGlyphs">shluc</text>
<rect x="452.8" y="369" width="4.2" height="4.2" fill="#2c4a80"/>
<text x="460.1" y="373.82" font-size="8" fill="#1a1a1a" stroke="#1a1a1a" stroke-width="0.15" textLength="38.3" lengthAdjust="spacingAndGlyphs">shIKBKE-#3</text>
<rect x="452.8" y="382.8" width="4.2" height="4.2" fill="#74b342"/>
<text x="460.1" y="387.62" font-size="8" fill="#1a1a1a" stroke="#1a1a1a" stroke-width="0.15" textLength="38.3" lengthAdjust="spacingAndGlyphs">shIKBKE-#5</text>
<rect x="452.8" y="396.6" width="4.2" height="4.2" fill="#552063"/>
<text x="460.1" y="401.42" font-size="8" fill="#1a1a1a" stroke="#1a1a1a" stroke-width="0.15" textLength="35.8" lengthAdjust="spacingAndGlyphs">shTBK1-#5</text>
<rect x="452.8" y="410.7" width="4.2" height="4.2" fill="#e9941a"/>
<text x="460.1" y="415.52" font-size="8" fill="#1a1a1a" stroke="#1a1a1a" stroke-width="0.15" textLength="35.8" lengthAdjust="spacingAndGlyphs">shTBK1-#8</text>
<text x="66" y="501.88" font-size="7.6" fill="#111" stroke="#111" stroke-width="0.15" textLength="26.9" lengthAdjust="spacingAndGlyphs">shIKBKE</text>
<text x="104" y="501.88" font-size="7.6" fill="#111" stroke="#111" stroke-width="0.15" textLength="23.5" lengthAdjust="spacingAndGlyphs">shTBK1</text>
<line x1="65" y1="505.5" x2="99.6" y2="505.5" stroke="#222" stroke-width="1"/>
<line x1="103.5" y1="505.5" x2="132" y2="505.5" stroke="#222" stroke-width="1"/>
<text x="47.7" y="516.48" font-size="7.6" fill="#111" stroke="#111" stroke-width="0.15" textLength="21.1" lengthAdjust="spacingAndGlyphs">shLUC</text>
<text x="74.2" y="516.48" font-size="7.6" fill="#111" stroke="#111" stroke-width="0.15" textLength="7.7" lengthAdjust="spacingAndGlyphs">#3</text>
<text x="89.6" y="516.48" font-size="7.6" fill="#111" stroke="#111" stroke-width="0.15" textLength="7.7" lengthAdjust="spacingAndGlyphs">#5</text>
<text x="108.8" y="516.48" font-size="7.6" fill="#111" stroke="#111" stroke-width="0.15" textLength="8.1" lengthAdjust="spacingAndGlyphs">#5</text>
<text x="124.6" y="516.48" font-size="7.6" fill="#111" stroke="#111" stroke-width="0.15" textLength="8.7" lengthAdjust="spacingAndGlyphs">#8</text>
<rect x="51.2" y="521.9" width="83.8" height="8.1" fill="#f4f4f4" stroke="#111" stroke-width="1.5" rx="0.8"/>
<rect x="53.3" y="523.3" width="13.3" height="5.2" rx="2.6" fill="#000" opacity="1" filter="url(#b05)"/>
<rect x="70.1" y="525" width="14.2" height="2.8" rx="1.4" fill="#222" opacity="1" filter="url(#b05)"/>
<rect x="88.7" y="524" width="12.4" height="4.6" rx="2.3" fill="#8a8a8a" opacity="1" filter="url(#b10)"/>
<rect x="104.6" y="524.2" width="13.3" height="4" rx="2" fill="#b4b4b4" opacity="1" filter="url(#b09)"/>
<path d="M122.5,526.9 L132.2,525.7" stroke="#2a2a2a" stroke-width="2.8" stroke-linecap="round" filter="url(#b06)"/>
<rect x="54.2" y="534.1" width="81.5" height="8.8" fill="#f4f4f4" stroke="#111" stroke-width="1.5" rx="0.8"/>
<rect x="56" y="536.5" width="11.5" height="3.8" rx="1.9" fill="#555" opacity="1" filter="url(#b09)"/>
<rect x="71" y="536.9" width="13" height="3" rx="1.5" fill="#ddd" opacity="0.6" filter="url(#b1)"/>
<rect x="88" y="536.9" width="12" height="3" rx="1.5" fill="#e4e4e4" opacity="0.5" filter="url(#b1)"/>
<rect x="103.7" y="536.6" width="12.4" height="3.6" rx="1.8" fill="#222" opacity="1" filter="url(#b06)"/>
<rect x="119.7" y="535.4" width="13.2" height="6.4" rx="3.2" fill="#000" opacity="1" filter="url(#b06)"/>
<rect x="55.5" y="546.9" width="79.5" height="6.8" fill="#f6f6f6" stroke="#111" stroke-width="1.5" rx="0.8"/>
<rect x="56" y="549.4" width="12" height="1.6" rx="0.8" fill="#333" opacity="1" filter="url(#b04)"/>
<rect x="71" y="549.4" width="13" height="1.6" rx="0.8" fill="#333" opacity="1" filter="url(#b04)"/>
<rect x="89" y="549.4" width="12" height="1.6" rx="0.8" fill="#444" opacity="1" filter="url(#b04)"/>
<rect x="105" y="549.4" width="12" height="1.6" rx="0.8" fill="#e4e4e4" opacity="1" filter="url(#b04)"/>
<rect x="121" y="549.4" width="12" height="1.6" rx="0.8" fill="#e8e8e8" opacity="1" filter="url(#b04)"/>
<rect x="55.1" y="557.4" width="79.9" height="7.8" fill="#f0f0f0" stroke="#111" stroke-width="1.5" rx="0.8"/>
<rect x="56" y="559.85" width="12" height="1.9" rx="0.95" fill="#111" opacity="1" filter="url(#b04)"/>
<rect x="71" y="559.85" width="13" height="1.9" rx="0.95" fill="#111" opacity="1" filter="url(#b04)"/>
<rect x="88" y="559.85" width="13" height="1.9" rx="0.95" fill="#111" opacity="1" filter="url(#b04)"/>
<rect x="104.5" y="559.85" width="12.5" height="1.9" rx="0.95" fill="#111" opacity="1" filter="url(#b04)"/>
<rect x="120" y="559.85" width="13" height="1.9" rx="0.95" fill="#111" opacity="1" filter="url(#b04)"/>
<text x="32.8" y="528.72" font-size="8.3" fill="#111" stroke="#111" stroke-width="0.15" textLength="14.9" lengthAdjust="spacingAndGlyphs">MYC</text>
<text x="31.8" y="541.32" font-size="8.3" fill="#111" stroke="#111" stroke-width="0.15" textLength="19" lengthAdjust="spacingAndGlyphs">IKBKE</text>
<text x="35.4" y="552.82" font-size="8.3" fill="#111" stroke="#111" stroke-width="0.15" textLength="15.9" lengthAdjust="spacingAndGlyphs">TBK1</text>
<text x="21.3" y="563.82" font-size="8.3" fill="#111" stroke="#111" stroke-width="0.15" textLength="30" lengthAdjust="spacingAndGlyphs">TUBULIN</text>
<line x1="48.4" y1="577.9" x2="48.4" y2="643.9" stroke="#222" stroke-width="1.4"/>
<line x1="45.4" y1="581.02" x2="48.4" y2="581.02" stroke="#111" stroke-width="1.1"/>
<text x="42" y="583.42" font-size="7.5" fill="#222" stroke="#222" stroke-width="0.15" text-anchor="end">1.2</text>
<line x1="45.4" y1="591.4" x2="48.4" y2="591.4" stroke="#111" stroke-width="1.1"/>
<text x="42" y="593.8" font-size="7.5" fill="#222" stroke="#222" stroke-width="0.15" text-anchor="end">1</text>
<line x1="45.4" y1="601.78" x2="48.4" y2="601.78" stroke="#111" stroke-width="1.1"/>
<text x="42" y="604.18" font-size="7.5" fill="#222" stroke="#222" stroke-width="0.15" text-anchor="end">0.8</text>
<line x1="45.4" y1="612.16" x2="48.4" y2="612.16" stroke="#111" stroke-width="1.1"/>
<text x="42" y="614.56" font-size="7.5" fill="#222" stroke="#222" stroke-width="0.15" text-anchor="end">0.6</text>
<line x1="45.4" y1="622.54" x2="48.4" y2="622.54" stroke="#111" stroke-width="1.1"/>
<text x="42" y="624.94" font-size="7.5" fill="#222" stroke="#222" stroke-width="0.15" text-anchor="end">0.4</text>
<line x1="45.4" y1="632.92" x2="48.4" y2="632.92" stroke="#111" stroke-width="1.1"/>
<text x="42" y="635.32" font-size="7.5" fill="#222" stroke="#222" stroke-width="0.15" text-anchor="end">0.2</text>
<line x1="45.4" y1="643.3" x2="48.4" y2="643.3" stroke="#111" stroke-width="1.1"/>
<text x="42" y="645.7" font-size="7.5" fill="#222" stroke="#222" stroke-width="0.15" text-anchor="end">0</text>
<line x1="48.4" y1="643.3" x2="147" y2="643.3" stroke="#111" stroke-width="1.3"/>
<line x1="57.1" y1="643.3" x2="57.1" y2="646.3" stroke="#111" stroke-width="0.9"/>
<line x1="77.55" y1="643.3" x2="77.55" y2="646.3" stroke="#111" stroke-width="0.9"/>
<line x1="98" y1="643.3" x2="98" y2="646.3" stroke="#111" stroke-width="0.9"/>
<line x1="118.45" y1="643.3" x2="118.45" y2="646.3" stroke="#111" stroke-width="0.9"/>
<line x1="138.9" y1="643.3" x2="138.9" y2="646.3" stroke="#111" stroke-width="0.9"/>
<rect x="54" y="591.4" width="6.4" height="51.9" fill="#a6022c"/>
<rect x="74.3" y="616.31" width="6.4" height="26.99" fill="#a6022c"/>
<rect x="94.9" y="624.1" width="6.4" height="19.2" fill="#a6022c"/>
<rect x="115.3" y="631.88" width="6.4" height="11.42" fill="#a6022c"/>
<rect x="135.9" y="622.54" width="6.4" height="20.76" fill="#a6022c"/>
<text x="46" y="656.85" font-size="7.8" fill="#111" stroke="#111" stroke-width="0.15" textLength="20.8" lengthAdjust="spacingAndGlyphs">shLUC</text>
<text x="72.7" y="656.85" font-size="7.8" fill="#111" stroke="#111" stroke-width="0.15" textLength="10.1" lengthAdjust="spacingAndGlyphs">I#3</text>
<text x="93" y="656.85" font-size="7.8" fill="#111" stroke="#111" stroke-width="0.15" textLength="10.2" lengthAdjust="spacingAndGlyphs">I#5</text>
<text x="112.3" y="656.85" font-size="7.8" fill="#111" stroke="#111" stroke-width="0.15" textLength="12.1" lengthAdjust="spacingAndGlyphs">T#5</text>
<text x="132.9" y="656.85" font-size="7.8" fill="#111" stroke="#111" stroke-width="0.15" textLength="12.1" lengthAdjust="spacingAndGlyphs">T#8</text>
<text transform="translate(24,650) rotate(-90)" x="0" y="0" font-size="9.6" fill="#111" stroke="#111" stroke-width="0.15" textLength="78.7" lengthAdjust="spacingAndGlyphs">MYC:TUBULIN ratio</text>
<text transform="translate(216.2,610.1) rotate(-90)" x="0" y="0" font-size="9.6" fill="#111" stroke="#111" stroke-width="0.15" textLength="81.7" lengthAdjust="spacingAndGlyphs">Relative mRNA level</text>
<line x1="239.2" y1="501.7" x2="239.2" y2="637.9" stroke="#222" stroke-width="1.4"/>
<line x1="236.2" y1="504.44" x2="239.2" y2="504.44" stroke="#111" stroke-width="1.1"/>
<text x="232.9" y="506.84" font-size="7.5" fill="#222" stroke="#222" stroke-width="0.15" text-anchor="end">1.4</text>
<line x1="236.2" y1="523.42" x2="239.2" y2="523.42" stroke="#111" stroke-width="1.1"/>
<text x="232.9" y="525.82" font-size="7.5" fill="#222" stroke="#222" stroke-width="0.15" text-anchor="end">1.2</text>
<line x1="236.2" y1="542.4" x2="239.2" y2="542.4" stroke="#111" stroke-width="1.1"/>
<text x="232.9" y="544.8" font-size="7.5" fill="#222" stroke="#222" stroke-width="0.15" text-anchor="end">1</text>
<line x1="236.2" y1="561.38" x2="239.2" y2="561.38" stroke="#111" stroke-width="1.1"/>
<text x="232.9" y="563.78" font-size="7.5" fill="#222" stroke="#222" stroke-width="0.15" text-anchor="end">0.8</text>
<line x1="236.2" y1="580.36" x2="239.2" y2="580.36" stroke="#111" stroke-width="1.1"/>
<text x="232.9" y="582.76" font-size="7.5" fill="#222" stroke="#222" stroke-width="0.15" text-anchor="end">0.6</text>
<line x1="236.2" y1="599.34" x2="239.2" y2="599.34" stroke="#111" stroke-width="1.1"/>
<text x="232.9" y="601.74" font-size="7.5" fill="#222" stroke="#222" stroke-width="0.15" text-anchor="end">0.4</text>
<line x1="236.2" y1="618.32" x2="239.2" y2="618.32" stroke="#111" stroke-width="1.1"/>
<text x="232.9" y="620.72" font-size="7.5" fill="#222" stroke="#222" stroke-width="0.15" text-anchor="end">0.2</text>
<line x1="236.2" y1="637.3" x2="239.2" y2="637.3" stroke="#111" stroke-width="1.1"/>
<text x="232.9" y="639.7" font-size="7.5" fill="#222" stroke="#222" stroke-width="0.15" text-anchor="end">0</text>
<rect x="242" y="542.4" width="3.65" height="94.9" fill="#a6022c"/>
<line x1="243.82" y1="519.62" x2="243.82" y2="565.18" stroke="#000" stroke-width="0.95"/>
<line x1="241.92" y1="519.62" x2="245.72" y2="519.62" stroke="#111" stroke-width="1.1"/>
<line x1="241.92" y1="565.18" x2="245.72" y2="565.18" stroke="#111" stroke-width="1.1"/>
<rect x="245.65" y="568.97" width="3.65" height="68.33" fill="#2c4a80"/>
<line x1="247.47" y1="558.53" x2="247.47" y2="579.41" stroke="#000" stroke-width="0.95"/>
<line x1="245.57" y1="558.53" x2="249.38" y2="558.53" stroke="#111" stroke-width="1.1"/>
<line x1="245.57" y1="579.41" x2="249.38" y2="579.41" stroke="#111" stroke-width="1.1"/>
<rect x="249.3" y="591.75" width="3.65" height="45.55" fill="#74b342"/>
<line x1="251.12" y1="582.26" x2="251.12" y2="601.24" stroke="#000" stroke-width="0.95"/>
<line x1="249.22" y1="582.26" x2="253.03" y2="582.26" stroke="#111" stroke-width="1.1"/>
<line x1="249.22" y1="601.24" x2="253.03" y2="601.24" stroke="#111" stroke-width="1.1"/>
<rect x="252.95" y="576.56" width="3.65" height="60.74" fill="#552063"/>
<line x1="254.77" y1="573.72" x2="254.77" y2="579.41" stroke="#000" stroke-width="0.95"/>
<line x1="252.87" y1="573.72" x2="256.67" y2="573.72" stroke="#111" stroke-width="1.1"/>
<line x1="252.87" y1="579.41" x2="256.67" y2="579.41" stroke="#111" stroke-width="1.1"/>
<rect x="256.6" y="587.95" width="3.65" height="49.35" fill="#e9941a"/>
<line x1="258.43" y1="585.1" x2="258.43" y2="590.8" stroke="#000" stroke-width="0.95"/>
<line x1="256.53" y1="585.1" x2="260.32" y2="585.1" stroke="#111" stroke-width="1.1"/>
<line x1="256.53" y1="590.8" x2="260.32" y2="590.8" stroke="#111" stroke-width="1.1"/>
<rect x="266.2" y="542.4" width="3.65" height="94.9" fill="#a6022c"/>
<line x1="268.02" y1="532.91" x2="268.02" y2="551.89" stroke="#000" stroke-width="0.95"/>
<line x1="266.12" y1="532.91" x2="269.92" y2="532.91" stroke="#111" stroke-width="1.1"/>
<line x1="266.12" y1="551.89" x2="269.92" y2="551.89" stroke="#111" stroke-width="1.1"/>
<rect x="269.85" y="529.11" width="3.65" height="108.19" fill="#2c4a80"/>
<line x1="271.67" y1="519.62" x2="271.67" y2="538.6" stroke="#000" stroke-width="0.95"/>
<line x1="269.77" y1="519.62" x2="273.57" y2="519.62" stroke="#111" stroke-width="1.1"/>
<line x1="269.77" y1="538.6" x2="273.57" y2="538.6" stroke="#111" stroke-width="1.1"/>
<rect x="273.5" y="564.23" width="3.65" height="73.07" fill="#74b342"/>
<line x1="275.32" y1="560.43" x2="275.32" y2="568.02" stroke="#000" stroke-width="0.95"/>
<line x1="273.43" y1="560.43" x2="277.22" y2="560.43" stroke="#111" stroke-width="1.1"/>
<line x1="273.43" y1="568.02" x2="277.22" y2="568.02" stroke="#111" stroke-width="1.1"/>
<rect x="277.15" y="571.82" width="3.65" height="65.48" fill="#552063"/>
<line x1="278.97" y1="558.53" x2="278.97" y2="585.1" stroke="#000" stroke-width="0.95"/>
<line x1="277.07" y1="558.53" x2="280.87" y2="558.53" stroke="#111" stroke-width="1.1"/>
<line x1="277.07" y1="585.1" x2="280.87" y2="585.1" stroke="#111" stroke-width="1.1"/>
<rect x="280.8" y="547.14" width="3.65" height="90.15" fill="#e9941a"/>
<line x1="282.62" y1="540.5" x2="282.62" y2="553.79" stroke="#000" stroke-width="0.95"/>
<line x1="280.73" y1="540.5" x2="284.52" y2="540.5" stroke="#111" stroke-width="1.1"/>
<line x1="280.73" y1="553.79" x2="284.52" y2="553.79" stroke="#111" stroke-width="1.1"/>
<rect x="290.4" y="542.4" width="3.65" height="94.9" fill="#a6022c"/>
<line x1="292.22" y1="528.16" x2="292.22" y2="556.63" stroke="#000" stroke-width="0.95"/>
<line x1="290.32" y1="528.16" x2="294.12" y2="528.16" stroke="#111" stroke-width="1.1"/>
<line x1="290.32" y1="556.63" x2="294.12" y2="556.63" stroke="#111" stroke-width="1.1"/>
<rect x="294.05" y="569.92" width="3.65" height="67.38" fill="#2c4a80"/>
<line x1="295.87" y1="565.18" x2="295.87" y2="574.67" stroke="#000" stroke-width="0.95"/>
<line x1="293.97" y1="565.18" x2="297.77" y2="565.18" stroke="#111" stroke-width="1.1"/>
<line x1="293.97" y1="574.67" x2="297.77" y2="574.67" stroke="#111" stroke-width="1.1"/>
<rect x="297.7" y="597.44" width="3.65" height="39.86" fill="#74b342"/>
<line x1="299.52" y1="593.65" x2="299.52" y2="601.24" stroke="#000" stroke-width="0.95"/>
<line x1="297.62" y1="593.65" x2="301.42" y2="593.65" stroke="#111" stroke-width="1.1"/>
<line x1="297.62" y1="601.24" x2="301.42" y2="601.24" stroke="#111" stroke-width="1.1"/>
<rect x="301.35" y="590.8" width="3.65" height="46.5" fill="#552063"/>
<line x1="303.17" y1="587.95" x2="303.17" y2="593.65" stroke="#000" stroke-width="0.95"/>
<line x1="301.27" y1="587.95" x2="305.07" y2="587.95" stroke="#111" stroke-width="1.1"/>
<line x1="301.27" y1="593.65" x2="305.07" y2="593.65" stroke="#111" stroke-width="1.1"/>
<rect x="305" y="593.65" width="3.65" height="43.65" fill="#e9941a"/>
<line x1="306.82" y1="588.9" x2="306.82" y2="598.39" stroke="#000" stroke-width="0.95"/>
<line x1="304.93" y1="588.9" x2="308.72" y2="588.9" stroke="#111" stroke-width="1.1"/>
<line x1="304.93" y1="598.39" x2="308.72" y2="598.39" stroke="#111" stroke-width="1.1"/>
<rect x="314.6" y="542.4" width="3.65" height="94.9" fill="#a6022c"/>
<line x1="316.42" y1="539.55" x2="316.42" y2="545.25" stroke="#000" stroke-width="0.95"/>
<line x1="314.52" y1="539.55" x2="318.32" y2="539.55" stroke="#111" stroke-width="1.1"/>
<line x1="314.52" y1="545.25" x2="318.32" y2="545.25" stroke="#111" stroke-width="1.1"/>
<rect x="318.25" y="580.36" width="3.65" height="56.94" fill="#2c4a80"/>
<line x1="320.07" y1="572.77" x2="320.07" y2="587.95" stroke="#000" stroke-width="0.95"/>
<line x1="318.17" y1="572.77" x2="321.97" y2="572.77" stroke="#111" stroke-width="1.1"/>
<line x1="318.17" y1="587.95" x2="321.97" y2="587.95" stroke="#111" stroke-width="1.1"/>
<rect x="321.9" y="618.32" width="3.65" height="18.98" fill="#74b342"/>
<line x1="323.72" y1="611.68" x2="323.72" y2="624.96" stroke="#000" stroke-width="0.95"/>
<line x1="321.82" y1="611.68" x2="325.62" y2="611.68" stroke="#111" stroke-width="1.1"/>
<line x1="321.82" y1="624.96" x2="325.62" y2="624.96" stroke="#111" stroke-width="1.1"/>
<rect x="325.55" y="614.52" width="3.65" height="22.78" fill="#552063"/>
<line x1="327.37" y1="607.88" x2="327.37" y2="621.17" stroke="#000" stroke-width="0.95"/>
<line x1="325.47" y1="607.88" x2="329.27" y2="607.88" stroke="#111" stroke-width="1.1"/>
<line x1="325.47" y1="621.17" x2="329.27" y2="621.17" stroke="#111" stroke-width="1.1"/>
<rect x="329.2" y="620.22" width="3.65" height="17.08" fill="#e9941a"/>
<line x1="331.02" y1="611.68" x2="331.02" y2="628.76" stroke="#000" stroke-width="0.95"/>
<line x1="329.12" y1="611.68" x2="332.92" y2="611.68" stroke="#111" stroke-width="1.1"/>
<line x1="329.12" y1="628.76" x2="332.92" y2="628.76" stroke="#111" stroke-width="1.1"/>
<rect x="338.8" y="542.4" width="3.65" height="94.9" fill="#a6022c"/>
<line x1="340.62" y1="528.16" x2="340.62" y2="556.63" stroke="#000" stroke-width="0.95"/>
<line x1="338.73" y1="528.16" x2="342.52" y2="528.16" stroke="#111" stroke-width="1.1"/>
<line x1="338.73" y1="556.63" x2="342.52" y2="556.63" stroke="#111" stroke-width="1.1"/>
<rect x="342.45" y="566.12" width="3.65" height="71.17" fill="#2c4a80"/>
<line x1="344.27" y1="564.23" x2="344.27" y2="568.02" stroke="#000" stroke-width="0.95"/>
<line x1="342.38" y1="564.23" x2="346.17" y2="564.23" stroke="#111" stroke-width="1.1"/>
<line x1="342.38" y1="568.02" x2="346.17" y2="568.02" stroke="#111" stroke-width="1.1"/>
<rect x="346.1" y="597.44" width="3.65" height="39.86" fill="#74b342"/>
<line x1="347.93" y1="587.95" x2="347.93" y2="606.93" stroke="#000" stroke-width="0.95"/>
<line x1="346.03" y1="587.95" x2="349.82" y2="587.95" stroke="#111" stroke-width="1.1"/>
<line x1="346.03" y1="606.93" x2="349.82" y2="606.93" stroke="#111" stroke-width="1.1"/>
<rect x="349.75" y="587.95" width="3.65" height="49.35" fill="#552063"/>
<line x1="351.57" y1="583.21" x2="351.57" y2="592.7" stroke="#000" stroke-width="0.95"/>
<line x1="349.68" y1="583.21" x2="353.47" y2="583.21" stroke="#111" stroke-width="1.1"/>
<line x1="349.68" y1="592.7" x2="353.47" y2="592.7" stroke="#111" stroke-width="1.1"/>
<rect x="353.4" y="610.73" width="3.65" height="26.57" fill="#e9941a"/>
<line x1="355.23" y1="607.88" x2="355.23" y2="613.57" stroke="#000" stroke-width="0.95"/>
<line x1="353.33" y1="607.88" x2="357.12" y2="607.88" stroke="#111" stroke-width="1.1"/>
<line x1="353.33" y1="613.57" x2="357.12" y2="613.57" stroke="#111" stroke-width="1.1"/>
<rect x="363" y="542.4" width="3.65" height="94.9" fill="#a6022c"/>
<line x1="364.82" y1="532.91" x2="364.82" y2="551.89" stroke="#000" stroke-width="0.95"/>
<line x1="362.93" y1="532.91" x2="366.72" y2="532.91" stroke="#111" stroke-width="1.1"/>
<line x1="362.93" y1="551.89" x2="366.72" y2="551.89" stroke="#111" stroke-width="1.1"/>
<rect x="366.65" y="563.28" width="3.65" height="74.02" fill="#2c4a80"/>
<line x1="368.47" y1="559.48" x2="368.47" y2="567.07" stroke="#000" stroke-width="0.95"/>
<line x1="366.57" y1="559.48" x2="370.37" y2="559.48" stroke="#111" stroke-width="1.1"/>
<line x1="366.57" y1="567.07" x2="370.37" y2="567.07" stroke="#111" stroke-width="1.1"/>
<rect x="370.3" y="584.16" width="3.65" height="53.14" fill="#74b342"/>
<line x1="372.12" y1="580.36" x2="372.12" y2="587.95" stroke="#000" stroke-width="0.95"/>
<line x1="370.23" y1="580.36" x2="374.02" y2="580.36" stroke="#111" stroke-width="1.1"/>
<line x1="370.23" y1="587.95" x2="374.02" y2="587.95" stroke="#111" stroke-width="1.1"/>
<rect x="373.95" y="583.21" width="3.65" height="54.09" fill="#552063"/>
<line x1="375.77" y1="578.46" x2="375.77" y2="587.95" stroke="#000" stroke-width="0.95"/>
<line x1="373.88" y1="578.46" x2="377.67" y2="578.46" stroke="#111" stroke-width="1.1"/>
<line x1="373.88" y1="587.95" x2="377.67" y2="587.95" stroke="#111" stroke-width="1.1"/>
<rect x="377.6" y="584.16" width="3.65" height="53.14" fill="#e9941a"/>
<line x1="379.43" y1="581.31" x2="379.43" y2="587" stroke="#000" stroke-width="0.95"/>
<line x1="377.53" y1="581.31" x2="381.32" y2="581.31" stroke="#111" stroke-width="1.1"/>
<line x1="377.53" y1="587" x2="381.32" y2="587" stroke="#111" stroke-width="1.1"/>
<rect x="387.2" y="542.4" width="3.65" height="94.9" fill="#a6022c"/>
<line x1="389.02" y1="536.71" x2="389.02" y2="548.09" stroke="#000" stroke-width="0.95"/>
<line x1="387.12" y1="536.71" x2="390.92" y2="536.71" stroke="#111" stroke-width="1.1"/>
<line x1="387.12" y1="548.09" x2="390.92" y2="548.09" stroke="#111" stroke-width="1.1"/>
<rect x="390.85" y="561.38" width="3.65" height="75.92" fill="#2c4a80"/>
<line x1="392.67" y1="560.43" x2="392.67" y2="562.33" stroke="#000" stroke-width="0.95"/>
<line x1="390.77" y1="560.43" x2="394.57" y2="560.43" stroke="#111" stroke-width="1.1"/>
<line x1="390.77" y1="562.33" x2="394.57" y2="562.33" stroke="#111" stroke-width="1.1"/>
<rect x="394.5" y="590.8" width="3.65" height="46.5" fill="#74b342"/>
<line x1="396.32" y1="581.31" x2="396.32" y2="600.29" stroke="#000" stroke-width="0.95"/>
<line x1="394.43" y1="581.31" x2="398.22" y2="581.31" stroke="#111" stroke-width="1.1"/>
<line x1="394.43" y1="600.29" x2="398.22" y2="600.29" stroke="#111" stroke-width="1.1"/>
<rect x="398.15" y="587" width="3.65" height="50.3" fill="#552063"/>
<line x1="399.97" y1="582.26" x2="399.97" y2="591.75" stroke="#000" stroke-width="0.95"/>
<line x1="398.07" y1="582.26" x2="401.87" y2="582.26" stroke="#111" stroke-width="1.1"/>
<line x1="398.07" y1="591.75" x2="401.87" y2="591.75" stroke="#111" stroke-width="1.1"/>
<rect x="401.8" y="601.24" width="3.65" height="36.06" fill="#e9941a"/>
<line x1="403.62" y1="599.34" x2="403.62" y2="603.14" stroke="#000" stroke-width="0.95"/>
<line x1="401.73" y1="599.34" x2="405.52" y2="599.34" stroke="#111" stroke-width="1.1"/>
<line x1="401.73" y1="603.14" x2="405.52" y2="603.14" stroke="#111" stroke-width="1.1"/>
<rect x="411.4" y="542.4" width="3.65" height="94.9" fill="#a6022c"/>
<rect x="415.05" y="572.77" width="3.65" height="64.53" fill="#2c4a80"/>
<line x1="416.88" y1="571.87" x2="416.88" y2="573.67" stroke="#000" stroke-width="0.95"/>
<line x1="414.98" y1="571.87" x2="418.77" y2="571.87" stroke="#111" stroke-width="1.1"/>
<line x1="414.98" y1="573.67" x2="418.77" y2="573.67" stroke="#111" stroke-width="1.1"/>
<rect x="418.7" y="605.03" width="3.65" height="32.27" fill="#74b342"/>
<line x1="420.53" y1="604.13" x2="420.53" y2="605.93" stroke="#000" stroke-width="0.95"/>
<line x1="418.63" y1="604.13" x2="422.43" y2="604.13" stroke="#111" stroke-width="1.1"/>
<line x1="418.63" y1="605.93" x2="422.43" y2="605.93" stroke="#111" stroke-width="1.1"/>
<rect x="422.35" y="586.05" width="3.65" height="51.25" fill="#552063"/>
<line x1="424.18" y1="583.21" x2="424.18" y2="588.9" stroke="#000" stroke-width="0.95"/>
<line x1="422.28" y1="583.21" x2="426.07" y2="583.21" stroke="#111" stroke-width="1.1"/>
<line x1="422.28" y1="588.9" x2="426.07" y2="588.9" stroke="#111" stroke-width="1.1"/>
<rect x="426" y="590.8" width="3.65" height="46.5" fill="#e9941a"/>
<line x1="427.83" y1="587.95" x2="427.83" y2="593.65" stroke="#000" stroke-width="0.95"/>
<line x1="425.93" y1="587.95" x2="429.73" y2="587.95" stroke="#111" stroke-width="1.1"/>
<line x1="425.93" y1="593.65" x2="429.73" y2="593.65" stroke="#111" stroke-width="1.1"/>
<line x1="239.2" y1="637.3" x2="435.2" y2="637.3" stroke="#111" stroke-width="1.3"/>
<line x1="239.2" y1="637.3" x2="239.2" y2="640.5" stroke="#111" stroke-width="0.9"/>
<line x1="263.4" y1="637.3" x2="263.4" y2="640.5" stroke="#111" stroke-width="0.9"/>
<line x1="287.6" y1="637.3" x2="287.6" y2="640.5" stroke="#111" stroke-width="0.9"/>
<line x1="311.8" y1="637.3" x2="311.8" y2="640.5" stroke="#111" stroke-width="0.9"/>
<line x1="336" y1="637.3" x2="336" y2="640.5" stroke="#111" stroke-width="0.9"/>
<line x1="360.2" y1="637.3" x2="360.2" y2="640.5" stroke="#111" stroke-width="0.9"/>
<line x1="384.4" y1="637.3" x2="384.4" y2="640.5" stroke="#111" stroke-width="0.9"/>
<line x1="408.6" y1="637.3" x2="408.6" y2="640.5" stroke="#111" stroke-width="0.9"/>
<line x1="432.8" y1="637.3" x2="432.8" y2="640.5" stroke="#111" stroke-width="0.9"/>
<text transform="translate(254.6,648) rotate(-45)" x="0" y="0" font-size="7" fill="#111" stroke="#111" stroke-width="0.15" text-anchor="end" textLength="21.12" lengthAdjust="spacingAndGlyphs">ABCE1</text>
<text transform="translate(278.8,648) rotate(-45)" x="0" y="0" font-size="7" fill="#111" stroke="#111" stroke-width="0.15" text-anchor="end" textLength="16.82" lengthAdjust="spacingAndGlyphs">CCT3</text>
<text transform="translate(303,648) rotate(-45)" x="0" y="0" font-size="7" fill="#111" stroke="#111" stroke-width="0.15" text-anchor="end" textLength="17.18" lengthAdjust="spacingAndGlyphs">DHX9</text>
<text transform="translate(327.2,648) rotate(-45)" x="0" y="0" font-size="7" fill="#111" stroke="#111" stroke-width="0.15" text-anchor="end" textLength="12.17" lengthAdjust="spacingAndGlyphs">DTL</text>
<text transform="translate(351.4,648) rotate(-45)" x="0" y="0" font-size="7" fill="#111" stroke="#111" stroke-width="0.15" text-anchor="end" textLength="20.76" lengthAdjust="spacingAndGlyphs">G3BP1</text>
<text transform="translate(375.6,648) rotate(-45)" x="0" y="0" font-size="7" fill="#111" stroke="#111" stroke-width="0.15" text-anchor="end" textLength="12.89" lengthAdjust="spacingAndGlyphs">ILF3</text>
<text transform="translate(399.8,648) rotate(-45)" x="0" y="0" font-size="7" fill="#111" stroke="#111" stroke-width="0.15" text-anchor="end" textLength="21.47" lengthAdjust="spacingAndGlyphs">NOLC1</text>
<text transform="translate(424,648) rotate(-45)" x="0" y="0" font-size="7" fill="#111" stroke="#111" stroke-width="0.15" text-anchor="end" textLength="18.85" lengthAdjust="spacingAndGlyphs">PAICS</text>
<rect x="442.1" y="539.4" width="4.5" height="4.5" fill="#a6022c"/>
<text x="450.1" y="544.42" font-size="8" fill="#1a1a1a" stroke="#1a1a1a" stroke-width="0.15" textLength="19.3" lengthAdjust="spacingAndGlyphs">shLuc</text>
<rect x="442.1" y="554.2" width="4.5" height="4.5" fill="#2c4a80"/>
<text x="450.1" y="559.22" font-size="8" fill="#1a1a1a" stroke="#1a1a1a" stroke-width="0.15" textLength="37.8" lengthAdjust="spacingAndGlyphs">shIKBKE-#3</text>
<rect x="442.1" y="569" width="4.5" height="4.5" fill="#74b342"/>
<text x="450.1" y="574.02" font-size="8" fill="#1a1a1a" stroke="#1a1a1a" stroke-width="0.15" textLength="37.8" lengthAdjust="spacingAndGlyphs">shIKBKE-#5</text>
<rect x="442.1" y="584" width="4.5" height="4.5" fill="#552063"/>
<text x="450.1" y="589.02" font-size="8" fill="#1a1a1a" stroke="#1a1a1a" stroke-width="0.15" textLength="35.3" lengthAdjust="spacingAndGlyphs">shTBK1-#5</text>
<rect x="442.1" y="599.1" width="4.5" height="4.5" fill="#e9941a"/>
<text x="450.1" y="604.12" font-size="8" fill="#1a1a1a" stroke="#1a1a1a" stroke-width="0.15" textLength="35.3" lengthAdjust="spacingAndGlyphs">shTBK1-#8</text>
<rect x="0" y="0" width="520" height="1.1" fill="#000"/>
<rect x="0" y="0" width="1.1" height="675" fill="#000"/>
<rect x="518.5" y="0" width="1.5" height="675" fill="#111"/>
<rect x="0" y="673.5" width="520" height="1.5" fill="#111"/>
</svg></body></html>
